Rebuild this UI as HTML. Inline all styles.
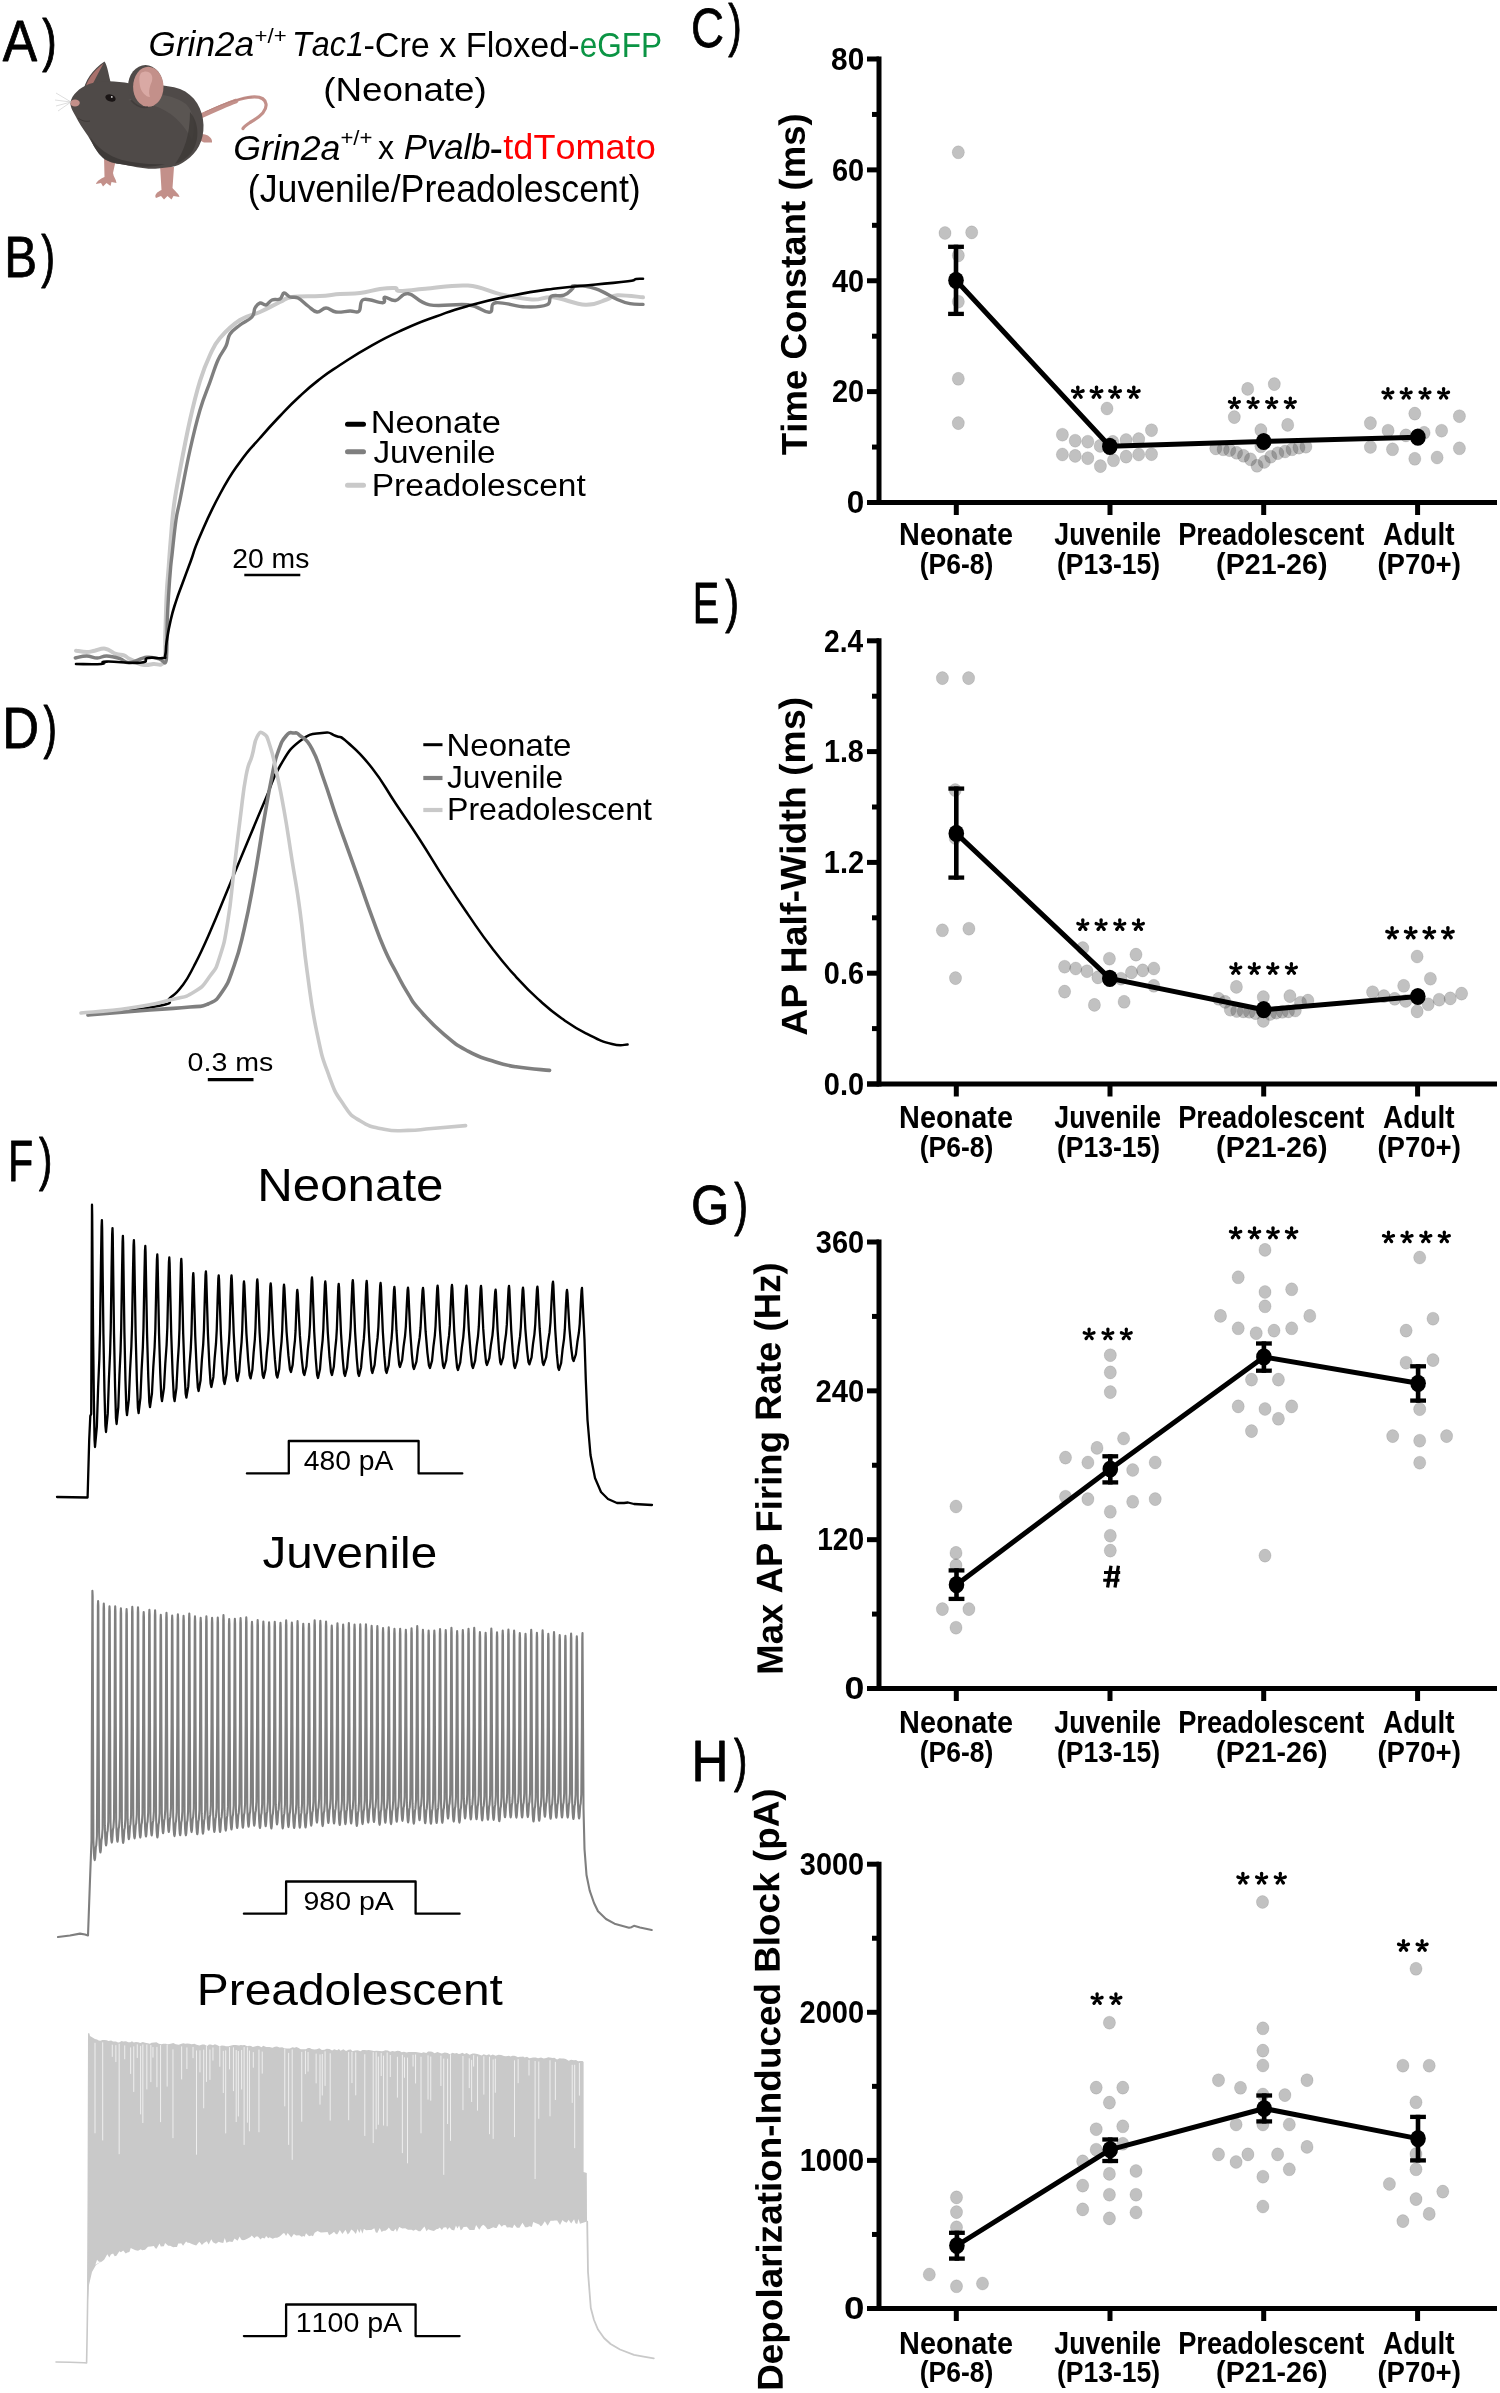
<!DOCTYPE html><html><head><meta charset="utf-8"><style>html,body{margin:0;padding:0;background:#fff;}svg{display:block;will-change:transform;}</style></head><body><svg xmlns="http://www.w3.org/2000/svg" width="1500" height="2393" viewBox="0 0 1500 2393">
<style>text{font-family:"Liberation Sans",sans-serif;font-kerning:none;} .d{fill:rgba(66,66,66,0.33);stroke:rgba(0,0,0,0.09);stroke-width:1}</style>
<rect width="1500" height="2393" fill="#fff"/>
<g>
<path d="M199,116 C214,109 232,100 248,97.5 C258,96 265,98 266,104 C267,111 258,118 250,122.5 C247,124.5 244,126.5 243,128.5" fill="none" stroke="#c3908a" stroke-width="3.2" stroke-linecap="round"/>
<path d="M199,117 C212,111 225,105 236,101" fill="none" stroke="#c3908a" stroke-width="4.6" stroke-linecap="round"/>
<path d="M205,112 C220,105 238,98 252,97" fill="none" stroke="#a8716c" stroke-width="0.8" opacity="0.5"/>
<path d="M197,133 L205,134.5 C209,135.5 212.5,138.5 212,142.5 L204,142.5 C201,141.5 198.5,139 197.5,137 Z" fill="#c3908a"/>
<path d="M83,94 C84,81 93,69 104.5,61.5 C107.5,66 108.5,74 111,84 Z" fill="#4f4a48"/>
<path d="M84.5,92 C86,81 94,70 103.5,63.5 C99,72 93.5,82 89.5,91 Z" fill="#a8716c"/>
<path d="M104,156 L104.5,177 C100,179 96.5,181.5 96,184 L101,183 L103,186.5 L106.5,183 L110.5,186 L111.5,182 L116.5,183 C116,179 113.5,177 113,173 L116.5,157 Z" fill="#c3908a"/>
<path d="M160,165 L161.5,190 C157,192 154,195 156,198 L161,196 L164,199.5 L167.5,196 L171.5,199.5 L173.5,196 L179.5,197 C178.5,193 174.5,191 172.5,188 L174,167 Z" fill="#c3908a"/>
<path d="M70.5,102 C72,95 79,88 89,84 C101,80 116,80.5 130,83.5 C145,84.5 165,84 180,89 C195,95 203,109 203.5,125 C204,141 197,153 186,160.5 C181,164 176,166.5 171,167 L158,168.5 C146,170 133,166 123,164.5 C114,163.5 108,162 103,158 C97,152 92,143 88,136 C83,129 78.5,122 75.5,116 C72,110 70,106 70.5,102 Z" fill="#4f4a48"/>
<path d="M128,100 C145,92 170,92 186,104 C194,112 196,126 192,140 C186,128 176,115 160,108 C148,103 137,102 128,100 Z" fill="#5c5755" opacity="0.8"/>
<path d="M190,112 C199,122 200,140 192,152 C187,158 181,162 175,164 C184,152 190,135 190,112 Z" fill="#3c3836" opacity="0.8"/>
<path d="M90,137 C98,148 108,156 122,160 C135,163 150,165 165,164 C152,168 136,167 123,164.5 C112,163 104,160 99,154 C95,149 92,143 90,137 Z" fill="#3c3836" opacity="0.9"/>
<path d="M78,118 C82,121 86,122 90,121" fill="none" stroke="#3c3836" stroke-width="0.9"/>
<ellipse cx="145.5" cy="86.5" rx="17.5" ry="21.5" fill="#4f4a48"/>
<ellipse cx="148.3" cy="86.8" rx="15.2" ry="20" fill="#c3908a"/>
<path d="M141,73 C147,69 154,73 152,81 C150,86 148,91 150,97 C146,97 141,92 140,86 C139,80 139,76 141,73 Z" fill="#dcaca6" opacity="0.9"/>
<path d="M131,100 C136,106 142,108.5 148,107" fill="none" stroke="#3c3836" stroke-width="1.6" opacity="0.7"/>
<ellipse cx="110.5" cy="98" rx="5.3" ry="3.5" fill="#1a1515" transform="rotate(18 110.5 98)"/>
<circle cx="111.8" cy="96.9" r="0.9" fill="#ddd"/>
<ellipse cx="75" cy="103" rx="4.8" ry="3.4" fill="#c3908a"/>
<line x1="71" y1="102" x2="56" y2="93" stroke="#bdbdbd" stroke-width="0.5"/>
<line x1="71" y1="102" x2="55" y2="100" stroke="#bdbdbd" stroke-width="0.5"/>
<line x1="71" y1="102" x2="56" y2="106" stroke="#bdbdbd" stroke-width="0.5"/>
<line x1="71" y1="102" x2="58" y2="111" stroke="#bdbdbd" stroke-width="0.5"/>
</g>
<text x="148.57" y="56.4" style="font-size:34.8px;font-style:italic;" fill="#000" textLength="105.54" lengthAdjust="spacingAndGlyphs">Grin2a</text>
<text x="254.62" y="43.1" style="font-size:20.29px;" fill="#000" textLength="32.08" lengthAdjust="spacingAndGlyphs">+/+</text>
<text x="292.1" y="56.4" style="font-size:35.32px;font-style:italic;" fill="#000" textLength="71.83" lengthAdjust="spacingAndGlyphs">Tac1</text>
<text x="363.48" y="56.7" style="font-size:34.52px;" fill="#000" textLength="216.23" lengthAdjust="spacingAndGlyphs">-Cre x Floxed-</text>
<text x="579.66" y="56.7" style="font-size:34.52px;" fill="#0b9444" textLength="82.4" lengthAdjust="spacingAndGlyphs">eGFP</text>
<text x="323.22" y="101.23" style="font-size:34.13px;" fill="#000" textLength="163.56" lengthAdjust="spacingAndGlyphs">(Neonate)</text>
<text x="233.24" y="159.5" style="font-size:35.09px;font-style:italic;" fill="#000" textLength="107.18" lengthAdjust="spacingAndGlyphs">Grin2a</text>
<text x="340.42" y="144.81" style="font-size:19.88px;" fill="#000" textLength="32.08" lengthAdjust="spacingAndGlyphs">+/+</text>
<text x="377.94" y="159.3" style="font-size:33.88px;" fill="#000" textLength="16.11" lengthAdjust="spacingAndGlyphs">x</text>
<text x="403.83" y="159.2" style="font-size:35.32px;font-style:italic;" fill="#000" textLength="86.73" lengthAdjust="spacingAndGlyphs">Pvalb</text>
<text x="489.5" y="162.65" style="font-size:44.8px;" fill="#000" textLength="13.5" lengthAdjust="spacingAndGlyphs">-</text>
<text x="503.35" y="159.2" style="font-size:35.32px;" fill="#ff0000" textLength="152.36" lengthAdjust="spacingAndGlyphs">tdTomato</text>
<text x="247.79" y="202" style="font-size:38.64px;" fill="#000" textLength="392.93" lengthAdjust="spacingAndGlyphs">(Juvenile/Preadolescent)</text>
<text x="2.8" y="61.1" style="font-size:57.7px;stroke:#000;stroke-width:0.8px;stroke-linejoin:round;" fill="#000" textLength="34.4" lengthAdjust="spacingAndGlyphs">A</text>
<text x="42.25" y="60.06" style="font-size:58.18px;stroke:#000;stroke-width:1px;stroke-linejoin:round;" fill="#000" textLength="14.44" lengthAdjust="spacingAndGlyphs">)</text>
<text x="4.36" y="276.6" style="font-size:56.98px;stroke:#000;stroke-width:0.8px;stroke-linejoin:round;" fill="#000" textLength="32.83" lengthAdjust="spacingAndGlyphs">B</text>
<text x="41.26" y="275.56" style="font-size:58.18px;stroke:#000;stroke-width:1px;stroke-linejoin:round;" fill="#000" textLength="13.82" lengthAdjust="spacingAndGlyphs">)</text>
<text x="2.22" y="748.3" style="font-size:56.98px;stroke:#000;stroke-width:0.8px;stroke-linejoin:round;" fill="#000" textLength="36.82" lengthAdjust="spacingAndGlyphs">D</text>
<text x="43.56" y="746.94" style="font-size:57.75px;stroke:#000;stroke-width:1px;stroke-linejoin:round;" fill="#000" textLength="13.44" lengthAdjust="spacingAndGlyphs">)</text>
<text x="8.01" y="1180.6" style="font-size:56.98px;stroke:#000;stroke-width:0.8px;stroke-linejoin:round;" fill="#000" textLength="25.24" lengthAdjust="spacingAndGlyphs">F</text>
<text x="38.97" y="1179.32" style="font-size:57.85px;stroke:#000;stroke-width:1px;stroke-linejoin:round;" fill="#000" textLength="13.31" lengthAdjust="spacingAndGlyphs">)</text>
<text x="691.08" y="46.6" style="font-size:56.14px;stroke:#000;stroke-width:0.8px;stroke-linejoin:round;" fill="#000" textLength="32.96" lengthAdjust="spacingAndGlyphs">C</text>
<text x="728.26" y="45.32" style="font-size:57.85px;stroke:#000;stroke-width:1px;stroke-linejoin:round;" fill="#000" textLength="13.44" lengthAdjust="spacingAndGlyphs">)</text>
<text x="692.85" y="622.6" style="font-size:56.98px;stroke:#000;stroke-width:0.8px;stroke-linejoin:round;" fill="#000" textLength="26.46" lengthAdjust="spacingAndGlyphs">E</text>
<text x="725.26" y="621.32" style="font-size:57.85px;stroke:#000;stroke-width:1px;stroke-linejoin:round;" fill="#000" textLength="13.82" lengthAdjust="spacingAndGlyphs">)</text>
<text x="690.92" y="1223.6" style="font-size:56.14px;stroke:#000;stroke-width:0.8px;stroke-linejoin:round;" fill="#000" textLength="38.37" lengthAdjust="spacingAndGlyphs">G</text>
<text x="734.26" y="1223.56" style="font-size:58.18px;stroke:#000;stroke-width:1px;stroke-linejoin:round;" fill="#000" textLength="13.82" lengthAdjust="spacingAndGlyphs">)</text>
<text x="691.5" y="1781.3" style="font-size:57.56px;stroke:#000;stroke-width:0.8px;stroke-linejoin:round;" fill="#000" textLength="36.98" lengthAdjust="spacingAndGlyphs">H</text>
<text x="733.97" y="1779.86" style="font-size:58.18px;stroke:#000;stroke-width:1px;stroke-linejoin:round;" fill="#000" textLength="13.31" lengthAdjust="spacingAndGlyphs">)</text>
<path d="M76,650.7 C78.14,650.96 82.96,652 86.7,652 C90.44,652 90.98,651.36 94.7,650.7 C98.42,650.04 101.04,648.04 105.3,648.7 C109.56,649.36 112.26,652.68 116,654 C119.74,655.32 121.34,654.36 124,655.3 C126.66,656.24 125.56,656.82 129.3,658.7 C133.04,660.58 137.9,663.64 142.7,664.7 C147.5,665.76 149.04,664.68 153.3,664 C157.56,663.32 161.6,667.44 164,661.3 C166.4,655.16 164.76,646.9 165.3,633.3 C165.84,619.7 166.02,606.62 166.7,593.3 C167.38,579.98 167.9,577.36 168.7,566.7 C169.5,556.04 169.64,552.34 170.7,540 C171.76,527.66 172.14,519 174,505 C175.86,491 176.8,487 180,470 C183.2,453 186,437.8 190,420 C194,402.2 196,394 200,381 C204,368 206,363.6 210,355 C214,346.4 214,345 220,338 C226,331 232,325.2 240,320 C248,314.8 252,315.6 260,312 C268,308.4 273.6,305 280,302 C286.4,299 284,298.2 292,297 C300,295.8 310.4,296.6 320,296 C329.6,295.4 332,294.6 340,294 C348,293.4 352,294 360,293 C368,292 373,290 380,289 C387,288 391,287.6 395,288 C399,288.4 393.94,290.84 400,291 C406.06,291.16 411.7,289.88 425.3,288.8 C438.9,287.72 453.06,284.54 468,285.6 C482.94,286.66 487.2,291.32 500,294.1 C512.8,296.88 521.34,298.86 532,299.5 C542.66,300.14 542.64,296.24 553.3,297.3 C563.96,298.36 574.62,304.36 585.3,304.8 C595.98,305.24 600.3,301.42 606.7,299.5 C613.1,297.58 610.04,295.64 617.3,295.2 C624.56,294.76 637.86,296.88 643,297.3" fill="none" stroke="#c9c9c9" stroke-width="4" stroke-linejoin="round" stroke-linecap="round" />
<path d="M75.3,658 C77.58,657.6 82.3,656 86.7,656 C91.1,656 93.3,658 97.3,658 C101.3,658 102.16,655.86 106.7,656 C111.24,656.14 115.48,657.36 120,658.7 C124.52,660.04 123.96,662.98 129.3,662.7 C134.64,662.42 140.56,657.98 146.7,657.3 C152.84,656.62 156.28,658.22 160,659.3 C163.72,660.38 163.96,663.9 165.3,662.7 C166.64,661.5 166.3,661.84 166.7,653.3 C167.1,644.76 166.9,632 167.3,620 C167.7,608 168.02,603.96 168.7,593.3 C169.38,582.64 170.04,574.36 170.7,566.7 C171.36,559.04 170.94,564.34 172,555 C173.06,545.66 174.4,531 176,520 C177.6,509 177.2,514 180,500 C182.8,486 186,468 190,450 C194,432 196,423.6 200,410 C204,396.4 206.4,392 210,382 C213.6,372 214.8,367.2 218,360 C221.2,352.8 223.6,351.2 226,346 C228.4,340.8 227.2,338.2 230,334 C232.8,329.8 235.6,328.4 240,325 C244.4,321.6 249,320.4 252,317 C255,313.6 253.4,310.8 255,308 C256.6,305.2 257.8,303.6 260,303 C262.2,302.4 263.6,305.6 266,305 C268.4,304.4 269.2,301.2 272,300 C274.8,298.8 277.6,300.4 280,299 C282.4,297.6 282,293.4 284,293 C286,292.6 287.2,296 290,297 C292.8,298 294.4,296.2 298,298 C301.6,299.8 304.2,303.2 308,306 C311.8,308.8 313.4,311.6 317,312 C320.6,312.4 322.2,308 326,308 C329.8,308 331.2,311.4 336,312 C340.8,312.6 345.4,311.16 350,311 C354.6,310.84 356.3,313.5 359,311.2 C361.7,308.9 358.76,301.2 363.5,299.5 C368.24,297.8 378.44,303.14 382.7,302.7 C386.96,302.26 382.24,297.74 384.8,297.3 C387.36,296.86 390.8,301.22 395.5,300.5 C400.2,299.78 401.48,292.84 408.3,293.7 C415.12,294.56 417.66,302.58 429.6,304.8 C441.54,307.02 456.06,303.3 468,304.8 C479.94,306.3 483.76,312.72 489.3,312.3 C494.84,311.88 488.44,303.78 495.7,302.7 C502.96,301.62 515.34,306.48 525.6,306.9 C535.86,307.32 541.88,306.92 547,304.8 C552.12,302.68 547.8,298.22 551.2,296.3 C554.6,294.38 559.74,296.7 564,295.2 C568.26,293.7 570.36,290.72 572.5,288.8 C574.64,286.88 570,285.6 574.7,285.6 C579.4,285.6 587.48,286.02 596,288.8 C604.52,291.58 610.5,296.52 617.3,299.5 C624.1,302.48 624.86,302.72 630,303.7 C635.14,304.68 640.4,304.26 643,304.4" fill="none" stroke="#7f7f7f" stroke-width="3.4" stroke-linejoin="round" stroke-linecap="round" />
<path d="M76,664 C82.75,664 93.11,664.64 101.3,664 C109.49,663.36 96.38,661.95 106.7,661.6 C117.02,661.25 128.99,663.66 140,662.7 C151.01,661.74 141.95,659.25 148,658 C154.05,656.75 158.09,658.88 162.7,658 C167.31,657.12 164.23,659.15 165.3,654.7 C166.37,650.25 165.26,650.55 166.7,641.3 C168.14,632.05 168.22,630.67 170.7,620 C173.18,609.33 172.8,611.25 176,601.3 C179.2,591.35 178.78,593.37 182.7,582.7 C186.62,572.03 186.09,573.75 190.7,561.3 C195.31,548.85 192.19,553.95 200,536 C207.81,518.05 209.33,513.73 220,494 C230.67,474.27 229.33,476.93 240,462 C250.67,447.07 249.33,450.27 260,438 C270.67,425.73 269.33,427.2 280,416 C290.67,404.8 289.33,405.87 300,396 C310.67,386.13 309.33,387.27 320,379 C330.67,370.73 326.13,373.99 340,365 C353.87,356.01 354.93,354.82 372,345.3 C389.07,335.78 386.93,336.98 404,329.3 C421.07,321.62 418.93,322.74 436,316.5 C453.07,310.26 448.08,311.42 468,305.9 C487.92,300.38 487.95,300.36 510.7,295.8 C533.45,291.24 530.55,291.81 553.3,288.8 C576.05,285.79 576.08,286.5 596,284.5 C615.92,282.5 617.33,282.77 628,281.3 C638.67,279.83 632,279.67 636,279 C640,278.33 641.13,278.85 643,278.8" fill="none" stroke="#000" stroke-width="2.6" stroke-linejoin="round" stroke-linecap="round" />
<line x1="347.5" y1="424.3" x2="363.5" y2="424.3" stroke="#000" stroke-width="5" stroke-linecap="round"/>
<line x1="347.5" y1="451.7" x2="363.5" y2="451.7" stroke="#7f7f7f" stroke-width="5" stroke-linecap="round"/>
<line x1="347.5" y1="485.3" x2="363.5" y2="485.3" stroke="#c9c9c9" stroke-width="5" stroke-linecap="round"/>
<text x="370.68" y="432.9" style="font-size:30.67px;" fill="#000" textLength="130.15" lengthAdjust="spacingAndGlyphs">Neonate</text>
<text x="373.48" y="463.3" style="font-size:31.54px;" fill="#000" textLength="122.1" lengthAdjust="spacingAndGlyphs">Juvenile</text>
<text x="371.75" y="495.7" style="font-size:30.81px;" fill="#000" textLength="213.99" lengthAdjust="spacingAndGlyphs">Preadolescent</text>
<text x="232.18" y="567.6" style="font-size:27.35px;" fill="#000" textLength="77.15" lengthAdjust="spacingAndGlyphs">20 ms</text>
<line x1="244.3" y1="575" x2="300.3" y2="575" stroke="#000" stroke-width="2.4" stroke-linecap="butt"/>
<path d="M88,1015 C106.67,1012.6 136.13,1010.53 158,1006 C179.87,1001.47 163.6,1003.33 170,998 C176.4,992.67 175.6,994.53 182,986 C188.4,977.47 186.53,980.4 194,966 C201.47,951.6 200.4,953.87 210,932 C219.6,910.13 219.33,909.6 230,884 C240.67,858.4 240.4,858.93 250,836 C259.6,813.07 258,816.67 266,798 C274,779.33 270.93,781.2 280,766 C289.07,750.8 288.8,749.8 300,741 C311.2,732.2 312.4,734.33 322,733 C331.6,731.67 329.07,733.39 336,736 C342.93,738.61 338.4,734.27 348,742.8 C357.6,751.33 359.2,751.68 372,768 C384.8,784.32 383.2,784.8 396,804 C408.8,823.2 407.2,820.16 420,840 C432.8,859.84 431.2,858.56 444,878.4 C456.8,898.24 455.2,895.84 468,914.4 C480.8,932.96 479.2,931.36 492,948 C504.8,964.64 503.2,962.72 516,976.8 C528.8,990.88 527.2,989.28 540,1000.8 C552.8,1012.32 551.2,1011.04 564,1020 C576.8,1028.96 575.2,1028 588,1034.4 C600.8,1040.8 601.44,1041.31 612,1044 C622.56,1046.69 623.44,1044.37 627.6,1044.5" fill="none" stroke="#000" stroke-width="2.5" stroke-linejoin="round" stroke-linecap="round" />
<path d="M88,1015 C104.53,1013.67 122.8,1012.13 150,1010 C177.2,1007.87 174.53,1008.6 190,1007 C205.47,1005.4 199.47,1008 208,1004 C216.53,1000 215.07,1002.13 222,992 C228.93,981.87 228.13,982.53 234,966 C239.87,949.47 238.67,952.93 244,930 C249.33,907.07 248.67,909.33 254,880 C259.33,850.67 259.2,847.73 264,820 C268.8,792.27 268.27,794.13 272,776 C275.73,757.87 274.27,762.67 278,752 C281.73,741.33 281.73,741.07 286,736 C290.27,730.93 290.27,733.11 294,733 C297.73,732.89 295.2,731.39 300,735.6 C304.8,739.81 305.6,736.96 312,748.8 C318.4,760.64 317.6,762.08 324,780 C330.4,797.92 329.6,797.44 336,816 C342.4,834.56 341.6,831.68 348,849.6 C354.4,867.52 353.6,865.28 360,883.2 C366.4,901.12 365.6,899.52 372,916.8 C378.4,934.08 377.6,933.28 384,948 C390.4,962.72 389.6,959.84 396,972 C402.4,984.16 401.6,983.36 408,993.6 C414.4,1003.84 410.4,999.52 420,1010.4 C429.6,1021.28 431.2,1023.52 444,1034.4 C456.8,1045.28 455.2,1044.16 468,1051.2 C480.8,1058.24 479.2,1056.64 492,1060.8 C504.8,1064.96 500.64,1064.24 516,1066.8 C531.36,1069.36 540.64,1069.44 549.6,1070.4" fill="none" stroke="#7f7f7f" stroke-width="3.6" stroke-linejoin="round" stroke-linecap="round" />
<path d="M81,1013 C94.07,1011.67 106.27,1011.47 130,1008 C153.73,1004.53 152.93,1004.27 170,1000 C187.07,995.73 183.33,998.4 194,992 C204.67,985.6 203.07,985.6 210,976 C216.93,966.4 215.2,970.93 220,956 C224.8,941.07 224.27,942.93 228,920 C231.73,897.07 230.8,896.67 234,870 C237.2,843.33 236.8,845.07 240,820 C243.2,794.93 242.8,793.07 246,776 C249.2,758.93 249.07,766.4 252,756 C254.93,745.6 253.8,742.87 257,737 C260.2,731.13 260.53,731.6 264,734 C267.47,736.4 266.8,736.4 270,746 C273.2,755.6 272.27,752.93 276,770 C279.73,787.07 279.73,786 284,810 C288.27,834 287.73,833.07 292,860 C296.27,886.93 295.95,881.13 300,911 C304.05,940.87 302.72,939.73 307.2,972 C311.68,1004.27 311.04,1004.48 316.8,1032 C322.56,1059.52 321.76,1056 328.8,1075.2 C335.84,1094.4 334.88,1091.84 343.2,1104 C351.52,1116.16 349.12,1114.08 360,1120.8 C370.88,1127.52 371.2,1126.64 384,1129.2 C396.8,1131.76 395.2,1130.59 408,1130.4 C420.8,1130.21 416.64,1129.78 432,1128.5 C447.36,1127.22 456.64,1126.37 465.6,1125.6" fill="none" stroke="#c9c9c9" stroke-width="3.6" stroke-linejoin="round" stroke-linecap="round" />
<line x1="423.3" y1="744.7" x2="442.5" y2="744.7" stroke="#000" stroke-width="3" stroke-linecap="butt"/>
<line x1="423.3" y1="778" x2="442.5" y2="778" stroke="#7f7f7f" stroke-width="4.2" stroke-linecap="butt"/>
<line x1="423.3" y1="810" x2="442.5" y2="810" stroke="#c9c9c9" stroke-width="4.2" stroke-linecap="butt"/>
<text x="446.49" y="756.3" style="font-size:30.96px;" fill="#000" textLength="124.98" lengthAdjust="spacingAndGlyphs">Neonate</text>
<text x="447.01" y="787.5" style="font-size:31.54px;" fill="#000" textLength="116.1" lengthAdjust="spacingAndGlyphs">Juvenile</text>
<text x="447.07" y="820" style="font-size:31.54px;" fill="#000" textLength="204.86" lengthAdjust="spacingAndGlyphs">Preadolescent</text>
<text x="187.59" y="1071" style="font-size:26.64px;" fill="#000" textLength="85.65" lengthAdjust="spacingAndGlyphs">0.3 ms</text>
<line x1="207.8" y1="1079.7" x2="253.5" y2="1079.7" stroke="#000" stroke-width="3.2" stroke-linecap="butt"/>
<text x="257.26" y="1201.2" style="font-size:45.35px;" fill="#000" textLength="186.23" lengthAdjust="spacingAndGlyphs">Neonate</text>
<text x="262.56" y="1567.5" style="font-size:44.77px;" fill="#000" textLength="174.56" lengthAdjust="spacingAndGlyphs">Juvenile</text>
<text x="196.77" y="2005.4" style="font-size:44.33px;" fill="#000" textLength="306.08" lengthAdjust="spacingAndGlyphs">Preadolescent</text>
<polyline points="246.9,1473.4 288.8,1473.4 288.8,1441 418.6,1441 418.6,1473.4 462.3,1473.4" fill="none" stroke="#000" stroke-width="2.3" stroke-linejoin="round" stroke-linecap="round" stroke-linejoin="miter" stroke-linecap="butt"/>
<text x="303.75" y="1469.9" style="font-size:26.74px;" fill="#000" textLength="89.6" lengthAdjust="spacingAndGlyphs">480 pA</text>
<polyline points="243.9,1913.7 286.1,1913.7 286.1,1881.5 415.6,1881.5 415.6,1913.7 459.6,1913.7" fill="none" stroke="#000" stroke-width="2.3" stroke-linejoin="round" stroke-linecap="round" stroke-linejoin="miter" stroke-linecap="butt"/>
<text x="303.46" y="1909.6" style="font-size:25.92px;" fill="#000" textLength="90.29" lengthAdjust="spacingAndGlyphs">980 pA</text>
<polyline points="243.9,2336.1 286.1,2336.1 286.1,2304.5 415.6,2304.5 415.6,2336.1 459.6,2336.1" fill="none" stroke="#000" stroke-width="2.3" stroke-linejoin="round" stroke-linecap="round" stroke-linejoin="miter" stroke-linecap="butt"/>
<text x="295.72" y="2332.1" style="font-size:26.74px;" fill="#000" textLength="106.43" lengthAdjust="spacingAndGlyphs">1100 pA</text>
<polyline points="57,1497 87.6,1497.5 89.2,1440 90.3,1416 91.2,1414 92,1204.7 92.18,1214.39 92.6,1270.12 93.11,1335.54 93.89,1400.96 94.55,1439.73 95,1447 96.86,1426.58 98.11,1388.01 99.35,1358.51 100.04,1331.28 100.93,1265.48 101.56,1226.91 101.9,1220.1 102.15,1228.58 102.72,1277.31 103.42,1334.53 104.48,1391.74 105.39,1425.64 106,1432 107.75,1413.65 108.92,1378.99 110.09,1352.48 110.75,1328.01 111.59,1268.88 112.17,1234.22 112.5,1228.1 112.75,1235.94 113.32,1280.99 114.02,1333.89 115.08,1386.78 115.98,1418.12 116.6,1424 118.3,1407.07 119.44,1375.09 120.57,1350.64 121.2,1328.07 122.02,1273.52 122.59,1241.54 122.9,1235.9 123.15,1243.06 123.72,1284.26 124.42,1332.61 125.48,1380.97 126.39,1409.63 127,1415 128.86,1399.26 130.1,1369.53 131.35,1346.79 132.04,1325.8 132.93,1275.08 133.56,1245.35 133.9,1240.1 134.18,1247.02 134.84,1286.78 135.64,1333.47 136.86,1380.15 137.89,1407.81 138.6,1413 140.41,1397.97 141.62,1369.58 142.82,1347.87 143.49,1327.83 144.36,1279.4 144.97,1251.01 145.3,1246 145.58,1252.44 146.24,1289.47 147.04,1332.94 148.26,1376.41 149.3,1402.17 150,1407 151.97,1393.28 153.28,1367.35 154.6,1347.53 155.33,1329.22 156.28,1285 156.94,1259.08 157.3,1254.5 157.58,1260.36 158.24,1294.06 159.04,1333.61 160.26,1373.16 161.3,1396.61 162,1401 163.97,1388.09 165.28,1363.69 166.6,1345.04 167.33,1327.82 168.28,1286.2 168.94,1261.81 169.3,1257.5 169.62,1263.24 170.36,1296.24 171.26,1334.99 172.64,1373.74 173.81,1396.69 174.6,1401 176.41,1388.2 177.62,1364.03 178.82,1345.54 179.49,1328.48 180.36,1287.24 180.97,1263.07 181.3,1258.8 181.61,1264.35 182.32,1296.28 183.19,1333.75 184.51,1371.23 185.64,1393.44 186.4,1397.6 188.26,1386.4 189.5,1365.26 190.75,1349.08 191.44,1334.16 192.33,1298.08 192.96,1276.93 193.3,1273.2 193.62,1277.91 194.36,1305.01 195.26,1336.81 196.64,1368.62 197.81,1387.47 198.6,1391 200.57,1380.23 201.88,1359.88 203.2,1344.32 203.93,1329.95 204.88,1295.24 205.53,1274.89 205.9,1271.3 206.23,1275.93 207,1302.54 207.94,1333.78 209.37,1365.02 210.58,1383.53 211.4,1387 213.37,1376.95 214.69,1357.96 216,1343.44 216.73,1330.03 217.68,1297.64 218.33,1278.65 218.7,1275.3 219.05,1279.65 219.88,1304.65 220.88,1334 222.42,1363.35 223.72,1380.74 224.6,1384 226.46,1374.22 227.7,1355.74 228.95,1341.61 229.64,1328.56 230.53,1297.04 231.16,1278.56 231.5,1275.3 231.85,1279.53 232.68,1303.84 233.68,1332.38 235.22,1360.92 236.52,1377.83 237.4,1381 239.18,1372.05 240.37,1355.13 241.56,1342.19 242.22,1330.26 243.08,1301.4 243.67,1284.48 244,1281.5 244.4,1285.38 245.32,1307.66 246.44,1333.83 248.16,1359.99 249.61,1375.49 250.6,1378.4 252.41,1369.48 253.62,1352.63 254.82,1339.75 255.49,1327.86 256.36,1299.12 256.97,1282.27 257.3,1279.3 257.68,1283.25 258.56,1305.95 259.63,1332.6 261.27,1359.25 262.66,1375.04 263.6,1378 265.52,1369.48 266.8,1353.38 268.07,1341.07 268.78,1329.7 269.71,1302.24 270.34,1286.14 270.7,1283.3 271.1,1287.07 272.04,1308.76 273.18,1334.22 274.92,1359.68 276.39,1374.77 277.4,1377.6 279.18,1369.24 280.37,1353.45 281.56,1341.37 282.22,1330.22 283.08,1303.28 283.67,1287.49 284,1284.7 284.42,1288.19 285.4,1308.27 286.59,1331.84 288.41,1355.41 289.95,1369.38 291,1372 292.7,1364.62 293.83,1350.68 294.97,1340.02 295.6,1330.18 296.42,1306.4 296.99,1292.46 297.3,1290 297.73,1293.4 298.72,1312.95 299.93,1335.9 301.77,1358.85 303.33,1372.45 304.4,1375 306.45,1366.22 307.82,1349.65 309.19,1336.97 309.95,1325.28 310.94,1297 311.62,1280.42 312,1277.5 312.36,1281.52 313.2,1304.63 314.22,1331.77 315.78,1358.9 317.1,1374.98 318,1378 319.97,1369.32 321.29,1352.91 322.6,1340.37 323.33,1328.79 324.28,1300.8 324.94,1284.39 325.3,1281.5 325.7,1285.24 326.64,1306.74 327.78,1331.99 329.52,1357.23 331,1372.19 332,1375 333.81,1366.8 335.01,1351.31 336.22,1339.47 336.89,1328.54 337.76,1302.12 338.37,1286.63 338.7,1283.9 339.08,1287.58 339.96,1308.77 341.03,1333.63 342.67,1358.5 344.06,1373.24 345,1376 347.11,1367.37 348.51,1351.07 349.91,1338.6 350.69,1327.09 351.71,1299.28 352.41,1282.98 352.8,1280.1 353.17,1283.94 354.04,1305.99 355.09,1331.89 356.71,1357.78 358.07,1373.12 359,1376 361.08,1367.45 362.46,1351.3 363.85,1338.95 364.62,1327.55 365.62,1300 366.31,1283.85 366.7,1281 367.04,1284.68 367.84,1305.84 368.81,1330.68 370.29,1355.52 371.54,1370.24 372.4,1373 374.61,1364.9 376.09,1349.6 377.57,1337.9 378.39,1327.1 379.45,1301 380.19,1285.7 380.6,1283 380.96,1286.6 381.8,1307.3 382.82,1331.6 384.38,1355.9 385.7,1370.3 386.6,1373 388.71,1365.26 390.11,1350.64 391.51,1339.46 392.29,1329.14 393.31,1304.2 394.01,1289.58 394.4,1287 394.74,1290.2 395.52,1308.6 396.47,1330.2 397.93,1351.8 399.16,1364.6 400,1367 402.16,1359.85 403.6,1346.36 405.04,1336.03 405.84,1326.51 406.88,1303.48 407.6,1289.98 408,1287.6 408.36,1290.86 409.2,1309.58 410.22,1331.56 411.78,1353.53 413.1,1366.56 414,1369 416.43,1361.71 418.05,1347.94 419.67,1337.41 420.57,1327.69 421.74,1304.2 422.55,1290.43 423,1288 423.42,1291.2 424.4,1309.6 425.59,1331.2 427.41,1352.8 428.95,1365.6 430,1368 432.05,1360.58 433.42,1346.58 434.79,1335.86 435.55,1325.98 436.54,1302.08 437.22,1288.07 437.6,1285.6 437.98,1288.9 438.88,1307.85 439.97,1330.1 441.63,1352.34 443.04,1365.53 444,1368 446.16,1360.53 447.6,1346.42 449.04,1335.63 449.84,1325.67 450.88,1301.6 451.6,1287.49 452,1285 452.36,1288.4 453.2,1307.95 454.22,1330.9 455.78,1353.85 457.1,1367.45 458,1370 460.27,1362.4 461.78,1348.06 463.29,1337.08 464.13,1326.96 465.22,1302.48 465.98,1288.13 466.4,1285.6 466.8,1288.9 467.72,1307.85 468.84,1330.1 470.56,1352.34 472.01,1365.53 473,1368 475.16,1360.62 476.6,1346.68 478.04,1336.02 478.84,1326.18 479.88,1302.4 480.6,1288.46 481,1286 481.36,1289.16 482.2,1307.33 483.22,1328.66 484.78,1349.99 486.1,1362.63 487,1365 489.32,1358.21 490.87,1345.4 492.42,1335.59 493.28,1326.55 494.4,1304.68 495.17,1291.86 495.6,1289.6 495.92,1292.59 496.68,1309.8 497.6,1329.99 499,1350.19 500.19,1362.16 501,1364.4 503.16,1357.34 504.6,1344.02 506.04,1333.82 506.84,1324.42 507.88,1301.68 508.6,1288.35 509,1286 509.36,1289.28 510.2,1308.14 511.22,1330.28 512.78,1352.42 514.1,1365.54 515,1368 517.16,1360.76 518.6,1347.1 520.04,1336.64 520.84,1327 521.88,1303.68 522.6,1290.01 523,1287.6 523.38,1290.67 524.28,1308.34 525.37,1329.07 527.03,1349.81 528.44,1362.1 529.4,1364.4 531.56,1357.4 533,1344.17 534.44,1334.06 535.24,1324.72 536.28,1302.16 537,1288.93 537.4,1286.6 537.77,1289.74 538.64,1307.77 539.69,1328.94 541.31,1350.1 542.67,1362.65 543.6,1365 546.14,1357.49 547.83,1343.32 549.52,1332.47 550.46,1322.47 551.68,1298.28 552.53,1284.1 553,1281.6 553.36,1285.14 554.2,1305.47 555.22,1329.34 556.78,1353.2 558.1,1367.35 559,1370 561.16,1362.8 562.6,1349.2 564.04,1338.8 564.84,1329.2 565.88,1306 566.6,1292.4 567,1290 567.4,1292.84 568.32,1309.17 569.44,1328.34 571.16,1347.51 572.61,1358.87 573.6,1361 575.87,1354.43 577.38,1342.02 578.89,1332.53 579.73,1323.77 580.82,1302.6 581.58,1290.19 582,1288 584.5,1340 585.8,1380 587.5,1420 590.5,1455 595,1478 601,1492 608,1499 617,1503 624,1503 628,1502.5 634,1504 652,1505" fill="none" stroke="#000" stroke-width="2.3" stroke-linejoin="round" stroke-linecap="round" />
<polyline points="58,1937 70,1935.5 80,1933.6 85,1934.5 88,1935.5 90,1880 91.5,1840 92.4,1590.73 92.65,1595.73 93,1725.42 93.4,1840.11 93.9,1853.11 94.35,1858.61 94.7,1860.11 95.1,1858.11 95.5,1852.11 95.85,1847.11 96.3,1845.11 96.9,1836.11 97.5,1730.59 97.88,1606.07 98.1,1601.07 98.35,1606.07 98.7,1726.76 99.1,1832.45 99.6,1845.45 100.05,1850.95 100.4,1852.45 100.8,1850.45 101.2,1844.45 101.55,1839.45 102,1837.45 102.6,1828.45 103.2,1728 103.58,1608.55 103.8,1603.55 104.05,1608.55 104.4,1724.47 104.8,1825.4 105.3,1838.4 105.75,1843.9 106.1,1845.4 106.5,1843.4 106.9,1837.4 107.25,1832.4 107.7,1830.4 108.3,1821.4 108.9,1725.81 109.28,1611.22 109.5,1606.22 109.75,1611.22 110.1,1724.4 110.5,1822.58 111,1835.58 111.45,1841.08 111.8,1842.58 112.2,1840.58 112.6,1834.58 112.95,1829.58 113.4,1827.58 114,1818.58 114.6,1724.48 114.98,1611.37 115.2,1606.37 115.45,1611.37 115.8,1724.07 116.2,1821.76 116.7,1834.76 117.15,1840.26 117.5,1841.76 117.9,1839.76 118.3,1833.76 118.65,1828.76 119.1,1826.76 119.7,1817.76 120.29,1724.98 120.67,1613.19 120.89,1608.19 121.14,1613.19 121.49,1725.54 121.89,1822.89 122.39,1835.89 122.84,1841.39 123.19,1842.89 123.59,1840.89 123.99,1834.89 124.34,1829.89 124.79,1827.89 125.39,1818.89 125.99,1725.92 126.37,1613.95 126.59,1608.95 126.84,1613.95 127.19,1724.05 127.59,1819.14 128.09,1832.14 128.54,1837.64 128.89,1839.14 129.29,1837.14 129.69,1831.14 130.04,1826.14 130.49,1824.14 131.09,1815.14 131.69,1722.97 132.07,1611.8 132.29,1606.8 132.54,1611.8 132.89,1722.59 133.29,1818.37 133.79,1831.37 134.24,1836.87 134.59,1838.37 134.99,1836.37 135.39,1830.37 135.74,1825.37 136.19,1823.37 136.79,1814.37 137.39,1722.78 137.77,1612.19 137.99,1607.19 138.24,1612.19 138.59,1722.39 138.99,1817.59 139.49,1830.59 139.94,1836.09 140.29,1837.59 140.69,1835.59 141.09,1829.59 141.44,1824.59 141.89,1822.59 142.49,1813.59 143.09,1724.78 143.47,1616.97 143.69,1611.97 143.94,1616.97 144.29,1724.21 144.69,1816.46 145.19,1829.46 145.64,1834.96 145.99,1836.46 146.39,1834.46 146.79,1828.46 147.14,1823.46 147.59,1821.46 148.19,1812.46 148.79,1723.09 149.17,1614.73 149.39,1609.73 149.64,1614.73 149.99,1722.58 150.39,1815.43 150.89,1828.43 151.34,1833.93 151.69,1835.43 152.09,1833.43 152.49,1827.43 152.84,1822.43 153.29,1820.43 153.89,1811.43 154.49,1722.87 154.87,1615.31 155.09,1610.31 155.34,1615.31 155.69,1723.9 156.09,1817.49 156.59,1830.49 157.04,1835.99 157.39,1837.49 157.79,1835.49 158.19,1829.49 158.54,1824.49 158.99,1822.49 159.59,1813.49 160.19,1726.16 160.57,1619.83 160.79,1614.83 161.04,1619.83 161.39,1724 161.79,1813.17 162.29,1826.17 162.74,1831.67 163.09,1833.17 163.49,1831.17 163.89,1825.17 164.24,1820.17 164.69,1818.17 165.29,1809.17 165.88,1723.04 166.26,1617.91 166.48,1612.91 166.73,1617.91 167.08,1722.41 167.48,1811.92 167.98,1824.92 168.43,1830.42 168.78,1831.92 169.18,1829.92 169.58,1823.92 169.93,1818.92 170.38,1816.92 170.98,1807.92 171.58,1723.69 171.96,1620.46 172.18,1615.46 172.43,1620.46 172.78,1725.78 173.18,1816.11 173.68,1829.11 174.13,1834.61 174.48,1836.11 174.88,1834.11 175.28,1828.11 175.63,1823.11 176.08,1821.11 176.68,1812.11 177.28,1725.24 177.66,1619.37 177.88,1614.37 178.13,1619.37 178.48,1724.83 178.88,1815.3 179.38,1828.3 179.83,1833.8 180.18,1835.3 180.58,1833.3 180.98,1827.3 181.33,1822.3 181.78,1820.3 182.38,1811.3 182.98,1725.54 183.36,1620.77 183.58,1615.77 183.83,1620.77 184.18,1725.56 184.58,1815.34 185.08,1828.34 185.53,1833.84 185.88,1835.34 186.28,1833.34 186.68,1827.34 187.03,1822.34 187.48,1820.34 188.08,1811.34 188.68,1724.48 189.06,1618.62 189.28,1613.62 189.53,1618.62 189.88,1722.85 190.28,1812.08 190.78,1825.08 191.23,1830.58 191.58,1832.08 191.98,1830.08 192.38,1824.08 192.73,1819.08 193.18,1817.08 193.78,1808.08 194.38,1724.2 194.76,1621.32 194.98,1616.32 195.23,1621.32 195.58,1725.25 195.98,1814.18 196.48,1827.18 196.93,1832.68 197.28,1834.18 197.68,1832.18 198.08,1826.18 198.43,1821.18 198.88,1819.18 199.48,1810.18 200.08,1725.98 200.46,1622.77 200.68,1617.77 200.93,1622.77 201.28,1725.71 201.68,1813.64 202.18,1826.64 202.63,1832.14 202.98,1833.64 203.38,1831.64 203.78,1825.64 204.13,1820.64 204.58,1818.64 205.18,1809.64 205.78,1724.99 206.16,1621.33 206.38,1616.33 206.63,1621.33 206.98,1723.01 207.38,1809.69 207.88,1822.69 208.33,1828.19 208.68,1829.69 209.08,1827.69 209.48,1821.69 209.83,1816.69 210.28,1814.69 210.88,1805.69 211.48,1723.7 211.86,1622.71 212.08,1617.71 212.33,1622.71 212.68,1724.8 213.08,1811.89 213.58,1824.89 214.03,1830.39 214.38,1831.89 214.78,1829.89 215.18,1823.89 215.53,1818.89 215.98,1816.89 216.58,1807.89 217.17,1724.77 217.55,1622.65 217.77,1617.65 218.02,1622.65 218.37,1724.78 218.77,1811.92 219.27,1824.92 219.72,1830.42 220.07,1831.92 220.47,1829.92 220.87,1823.92 221.22,1818.92 221.67,1816.92 222.27,1807.92 222.87,1723.45 223.25,1619.98 223.47,1614.98 223.72,1619.98 224.07,1722.8 224.47,1810.63 224.97,1823.63 225.42,1829.13 225.77,1830.63 226.17,1828.63 226.57,1822.63 226.92,1817.63 227.37,1815.63 227.97,1806.63 228.57,1724.85 228.95,1624.06 229.17,1619.06 229.42,1624.06 229.77,1724.27 230.17,1809.49 230.67,1822.49 231.12,1827.99 231.47,1829.49 231.87,1827.49 232.27,1821.49 232.62,1816.49 233.07,1814.49 233.67,1805.49 234.27,1724.16 234.65,1623.83 234.87,1618.83 235.12,1623.83 235.47,1723.38 235.87,1807.92 236.37,1820.92 236.82,1826.42 237.17,1827.92 237.57,1825.92 237.97,1819.92 238.32,1814.92 238.77,1812.92 239.37,1803.92 239.97,1722.96 240.35,1623 240.57,1618 240.82,1623 241.17,1722.88 241.57,1807.76 242.07,1820.76 242.52,1826.26 242.87,1827.76 243.27,1825.76 243.67,1819.76 244.02,1814.76 244.47,1812.76 245.07,1803.76 245.67,1722.51 246.05,1622.26 246.27,1617.26 246.52,1622.26 246.87,1722.01 247.27,1806.77 247.77,1819.77 248.22,1825.27 248.57,1826.77 248.97,1824.77 249.37,1818.77 249.72,1813.77 250.17,1811.77 250.77,1802.77 251.37,1724.32 251.75,1626.88 251.97,1621.88 252.22,1626.88 252.57,1723.76 252.97,1805.64 253.47,1818.64 253.92,1824.14 254.27,1825.64 254.67,1823.64 255.07,1817.64 255.42,1812.64 255.87,1810.64 256.47,1801.64 257.07,1722.85 257.45,1625.06 257.67,1620.06 257.92,1625.06 258.27,1724.01 258.67,1807.96 259.17,1820.96 259.62,1826.46 259.97,1827.96 260.37,1825.96 260.77,1819.96 261.12,1814.96 261.57,1812.96 262.17,1803.96 262.77,1724.69 263.15,1626.43 263.37,1621.43 263.62,1626.43 263.97,1723.8 264.37,1806.17 264.87,1819.17 265.32,1824.67 265.67,1826.17 266.07,1824.17 266.47,1818.17 266.82,1813.17 267.27,1811.17 267.87,1802.17 268.46,1724.27 268.84,1627.37 269.06,1622.37 269.31,1627.37 269.66,1725.43 270.06,1808.5 270.56,1821.5 271.01,1827 271.36,1828.5 271.76,1826.5 272.16,1820.5 272.51,1815.5 272.96,1813.5 273.56,1804.5 274.16,1725.09 274.54,1626.69 274.76,1621.69 275.01,1626.69 275.36,1723.04 275.76,1804.39 276.26,1817.39 276.71,1822.89 277.06,1824.39 277.46,1822.39 277.86,1816.39 278.21,1811.39 278.66,1809.39 279.26,1800.39 279.86,1723.63 280.24,1627.87 280.46,1622.87 280.71,1627.87 281.06,1725.63 281.46,1808.39 281.96,1821.39 282.41,1826.89 282.76,1828.39 283.16,1826.39 283.56,1820.39 283.91,1815.39 284.36,1813.39 284.96,1804.39 285.56,1724.39 285.94,1625.38 286.16,1620.38 286.41,1625.38 286.76,1723.72 287.16,1807.06 287.66,1820.06 288.11,1825.56 288.46,1827.06 288.86,1825.06 289.26,1819.06 289.61,1814.06 290.06,1812.06 290.66,1803.06 291.26,1724.83 291.64,1627.6 291.86,1622.6 292.11,1627.6 292.46,1725.29 292.86,1807.98 293.36,1820.98 293.81,1826.48 294.16,1827.98 294.56,1825.98 294.96,1819.98 295.31,1814.98 295.76,1812.98 296.36,1803.98 296.96,1724.55 297.34,1626.13 297.56,1621.13 297.81,1626.13 298.16,1724.38 298.56,1807.64 299.06,1820.64 299.51,1826.14 299.86,1827.64 300.26,1825.64 300.66,1819.64 301.01,1814.64 301.46,1812.64 302.06,1803.64 302.66,1725.76 303.04,1628.89 303.26,1623.89 303.51,1628.89 303.86,1725.67 304.26,1807.45 304.76,1820.45 305.21,1825.95 305.56,1827.45 305.96,1825.45 306.36,1819.45 306.71,1814.45 307.16,1812.45 307.76,1803.45 308.36,1725.68 308.74,1628.91 308.96,1623.91 309.21,1628.91 309.56,1724.77 309.96,1805.64 310.46,1818.64 310.91,1824.14 311.26,1825.64 311.66,1823.64 312.06,1817.64 312.41,1812.64 312.86,1810.64 313.46,1801.64 314.05,1722.97 314.43,1625.31 314.65,1620.31 314.9,1625.31 315.25,1721.46 315.65,1802.61 316.15,1815.61 316.6,1821.11 316.95,1822.61 317.35,1820.61 317.75,1814.61 318.1,1809.61 318.55,1807.61 319.15,1798.61 319.75,1721.71 320.13,1625.81 320.35,1620.81 320.6,1625.81 320.95,1723.44 321.35,1806.07 321.85,1819.07 322.3,1824.57 322.65,1826.07 323.05,1824.07 323.45,1818.07 323.8,1813.07 324.25,1811.07 324.85,1802.07 325.45,1723.79 325.83,1626.52 326.05,1621.52 326.3,1626.52 326.65,1722.26 327.05,1803 327.55,1816 328,1821.5 328.35,1823 328.75,1821 329.15,1815 329.5,1810 329.95,1808 330.55,1799 331.15,1724.28 331.53,1630.56 331.75,1625.56 332,1630.56 332.35,1724.5 332.75,1803.44 333.25,1816.44 333.7,1821.94 334.05,1823.44 334.45,1821.44 334.85,1815.44 335.2,1810.44 335.65,1808.44 336.25,1799.44 336.85,1723.33 337.23,1628.22 337.45,1623.22 337.7,1628.22 338.05,1724.14 338.45,1805.05 338.95,1818.05 339.4,1823.55 339.75,1825.05 340.15,1823.05 340.55,1817.05 340.9,1812.05 341.35,1810.05 341.95,1801.05 342.55,1724.76 342.93,1629.48 343.15,1624.48 343.4,1629.48 343.75,1724.32 344.15,1804.16 344.65,1817.16 345.1,1822.66 345.45,1824.16 345.85,1822.16 346.25,1816.16 346.6,1811.16 347.05,1809.16 347.65,1800.16 348.25,1723.66 348.63,1628.16 348.85,1623.16 349.1,1628.16 349.45,1723.29 349.85,1803.43 350.35,1816.43 350.8,1821.93 351.15,1823.43 351.55,1821.43 351.95,1815.43 352.3,1810.43 352.75,1808.43 353.35,1799.43 353.95,1723.96 354.33,1629.5 354.55,1624.5 354.8,1629.5 355.15,1725.19 355.55,1805.89 356.05,1818.89 356.5,1824.39 356.85,1825.89 357.25,1823.89 357.65,1817.89 358,1812.89 358.45,1810.89 359.05,1801.89 359.65,1725.05 360.03,1629.2 360.25,1624.2 360.5,1629.2 360.85,1724.15 361.25,1804.09 361.75,1817.09 362.2,1822.59 362.55,1824.09 362.95,1822.09 363.35,1816.09 363.7,1811.09 364.15,1809.09 364.75,1800.09 365.34,1724.21 365.72,1629.33 365.94,1624.33 366.19,1629.33 366.54,1723.45 366.94,1802.57 367.44,1815.57 367.89,1821.07 368.24,1822.57 368.64,1820.57 369.04,1814.57 369.39,1809.57 369.84,1807.57 370.44,1798.57 371.04,1724.19 371.42,1630.81 371.64,1625.81 371.89,1630.81 372.24,1723.89 372.64,1801.96 373.14,1814.96 373.59,1820.46 373.94,1821.96 374.34,1819.96 374.74,1813.96 375.09,1808.96 375.54,1806.96 376.14,1797.96 376.74,1724.04 377.12,1631.12 377.34,1626.12 377.59,1631.12 377.94,1725.48 378.34,1804.85 378.84,1817.85 379.29,1823.35 379.64,1824.85 380.04,1822.85 380.44,1816.85 380.79,1811.85 381.24,1809.85 381.84,1800.85 382.44,1726.43 382.82,1633.02 383.04,1628.02 383.29,1633.02 383.64,1725.39 384.04,1802.76 384.54,1815.76 384.99,1821.26 385.34,1822.76 385.74,1820.76 386.14,1814.76 386.49,1809.76 386.94,1807.76 387.54,1798.76 388.14,1724.99 388.52,1632.22 388.74,1627.22 388.99,1632.22 389.34,1725.67 389.74,1804.12 390.24,1817.12 390.69,1822.62 391.04,1824.12 391.44,1822.12 391.84,1816.12 392.19,1811.12 392.64,1809.12 393.24,1800.12 393.84,1726.44 394.22,1633.76 394.44,1628.76 394.69,1633.76 395.04,1725.28 395.44,1801.8 395.94,1814.8 396.39,1820.3 396.74,1821.8 397.14,1819.8 397.54,1813.8 397.89,1808.8 398.34,1806.8 398.94,1797.8 399.54,1725.26 399.92,1633.71 400.14,1628.71 400.39,1633.71 400.74,1724.79 401.14,1800.87 401.64,1813.87 402.09,1819.37 402.44,1820.87 402.84,1818.87 403.24,1812.87 403.59,1807.87 404.04,1805.87 404.64,1796.87 405.24,1725.28 405.62,1634.69 405.84,1629.69 406.09,1634.69 406.44,1726.04 406.84,1802.39 407.34,1815.39 407.79,1820.89 408.14,1822.39 408.54,1820.39 408.94,1814.39 409.29,1809.39 409.74,1807.39 410.34,1798.39 410.93,1725.39 411.31,1633.4 411.53,1628.4 411.78,1633.4 412.13,1726.02 412.53,1803.64 413.03,1816.64 413.48,1822.14 413.83,1823.64 414.23,1821.64 414.63,1815.64 414.98,1810.64 415.43,1808.64 416.03,1799.64 416.63,1724.9 417.01,1631.17 417.23,1626.17 417.48,1631.17 417.83,1723.2 418.23,1800.24 418.73,1813.24 419.18,1818.74 419.53,1820.24 419.93,1818.24 420.33,1812.24 420.68,1807.24 421.13,1805.24 421.73,1796.24 422.33,1725.08 422.71,1634.91 422.93,1629.91 423.18,1634.91 423.53,1726.55 423.93,1803.18 424.43,1816.18 424.88,1821.68 425.23,1823.18 425.63,1821.18 426.03,1815.18 426.38,1810.18 426.83,1808.18 427.43,1799.18 428.03,1726.91 428.41,1635.65 428.63,1630.65 428.88,1635.65 429.23,1727.16 429.63,1803.67 430.13,1816.67 430.58,1822.17 430.93,1823.67 431.33,1821.67 431.73,1815.67 432.08,1810.67 432.53,1808.67 433.13,1799.67 433.73,1727.11 434.11,1635.56 434.33,1630.56 434.58,1635.56 434.93,1726.74 435.33,1802.92 435.83,1815.92 436.28,1821.42 436.63,1822.92 437.03,1820.92 437.43,1814.92 437.78,1809.92 438.23,1807.92 438.83,1798.92 439.43,1726.01 439.81,1634.1 440.03,1629.1 440.28,1634.1 440.63,1725.97 441.03,1802.85 441.53,1815.85 441.98,1821.35 442.33,1822.85 442.73,1820.85 443.13,1814.85 443.48,1809.85 443.93,1807.85 444.53,1798.85 445.13,1726.44 445.51,1635.03 445.73,1630.03 445.98,1635.03 446.33,1724.32 446.73,1798.6 447.23,1811.6 447.68,1817.1 448.03,1818.6 448.43,1816.6 448.83,1810.6 449.18,1805.6 449.63,1803.6 450.23,1794.6 450.83,1723.17 451.21,1632.73 451.43,1627.73 451.68,1632.73 452.03,1724.65 452.43,1801.57 452.93,1814.57 453.38,1820.07 453.73,1821.57 454.13,1819.57 454.53,1813.57 454.88,1808.57 455.33,1806.57 455.93,1797.57 456.53,1726.31 456.91,1636.05 457.13,1631.05 457.38,1636.05 457.73,1726.83 458.13,1802.61 458.63,1815.61 459.08,1821.11 459.43,1822.61 459.83,1820.61 460.23,1814.61 460.58,1809.61 461.03,1807.61 461.63,1798.61 462.22,1726.29 462.6,1634.97 462.82,1629.97 463.07,1634.97 463.42,1724.19 463.82,1798.41 464.32,1811.41 464.77,1816.91 465.12,1818.41 465.52,1816.41 465.92,1810.41 466.27,1805.41 466.72,1803.41 467.32,1794.41 467.92,1723.58 468.3,1633.74 468.52,1628.74 468.77,1633.74 469.12,1724.07 469.52,1799.39 470.02,1812.39 470.47,1817.89 470.82,1819.39 471.22,1817.39 471.62,1811.39 471.97,1806.39 472.42,1804.39 473.02,1795.39 473.62,1723.62 474,1632.85 474.22,1627.85 474.47,1632.85 474.82,1723.55 475.22,1799.25 475.72,1812.25 476.17,1817.75 476.52,1819.25 476.92,1817.25 477.32,1811.25 477.67,1806.25 478.12,1804.25 478.72,1795.25 479.32,1725.63 479.7,1637.02 479.92,1632.02 480.17,1637.02 480.52,1726.21 480.92,1800.41 481.42,1813.41 481.87,1818.91 482.22,1820.41 482.62,1818.41 483.02,1812.41 483.37,1807.41 483.82,1805.41 484.42,1796.41 485.02,1726.66 485.4,1637.91 485.62,1632.91 485.87,1637.91 486.22,1726.33 486.62,1799.76 487.12,1812.76 487.57,1818.26 487.92,1819.76 488.32,1817.76 488.72,1811.76 489.07,1806.76 489.52,1804.76 490.12,1795.76 490.72,1724.19 491.1,1633.62 491.32,1628.62 491.57,1633.62 491.92,1724.25 492.32,1799.88 492.82,1812.88 493.27,1818.38 493.62,1819.88 494.02,1817.88 494.42,1811.88 494.77,1806.88 495.22,1804.88 495.82,1795.88 496.42,1726.14 496.8,1637.39 497.02,1632.39 497.27,1637.39 497.62,1726.83 498.02,1801.27 498.52,1814.27 498.97,1819.77 499.32,1821.27 499.72,1819.27 500.12,1813.27 500.47,1808.27 500.92,1806.27 501.52,1797.27 502.12,1725.96 502.5,1635.65 502.72,1630.65 502.97,1635.65 503.32,1723.96 503.72,1797.27 504.22,1810.27 504.67,1815.77 505.02,1817.27 505.42,1815.27 505.82,1809.27 506.17,1804.27 506.62,1802.27 507.22,1793.27 507.82,1723.41 508.2,1634.56 508.42,1629.56 508.67,1634.56 509.02,1723.48 509.42,1797.4 509.92,1810.4 510.37,1815.9 510.72,1817.4 511.12,1815.4 511.52,1809.4 511.87,1804.4 512.32,1802.4 512.92,1793.4 513.51,1723.94 513.89,1635.49 514.11,1630.49 514.36,1635.49 514.71,1724.06 515.11,1797.63 515.61,1810.63 516.06,1816.13 516.41,1817.63 516.81,1815.63 517.21,1809.63 517.56,1804.63 518.01,1802.63 518.61,1793.63 519.21,1725.35 519.59,1638.07 519.81,1633.07 520.06,1638.07 520.41,1725.28 520.81,1797.49 521.31,1810.49 521.76,1815.99 522.11,1817.49 522.51,1815.49 522.91,1809.49 523.26,1804.49 523.71,1802.49 524.31,1793.49 524.91,1725.64 525.29,1638.8 525.51,1633.8 525.76,1638.8 526.11,1725.44 526.51,1797.08 527.01,1810.08 527.46,1815.58 527.81,1817.08 528.21,1815.08 528.61,1809.08 528.96,1804.08 529.41,1802.08 530.01,1793.08 530.61,1723.47 530.99,1634.86 531.21,1629.86 531.46,1634.86 531.81,1725.67 532.21,1801.48 532.71,1814.48 533.16,1819.98 533.51,1821.48 533.91,1819.48 534.31,1813.48 534.66,1808.48 535.11,1806.48 535.71,1797.48 536.31,1727.2 536.69,1637.92 536.91,1632.92 537.16,1637.92 537.51,1726.84 537.91,1800.75 538.41,1813.75 538.86,1819.25 539.21,1820.75 539.61,1818.75 540.01,1812.75 540.36,1807.75 540.81,1805.75 541.41,1796.75 542.01,1725.52 542.39,1635.28 542.61,1630.28 542.86,1635.28 543.21,1723.53 543.61,1796.78 544.11,1809.78 544.56,1815.28 544.91,1816.78 545.31,1814.78 545.71,1808.78 546.06,1803.78 546.51,1801.78 547.11,1792.78 547.71,1725.32 548.09,1638.86 548.31,1633.86 548.56,1638.86 548.91,1726.3 549.31,1798.73 549.81,1811.73 550.26,1817.23 550.61,1818.73 551.01,1816.73 551.41,1810.73 551.76,1805.73 552.21,1803.73 552.81,1794.73 553.41,1725.43 553.79,1637.13 554.01,1632.13 554.26,1637.13 554.61,1724.9 555.01,1797.67 555.51,1810.67 555.96,1816.17 556.31,1817.67 556.71,1815.67 557.11,1809.67 557.46,1804.67 557.91,1802.67 558.51,1793.67 559.1,1726.38 559.48,1640.09 559.7,1635.09 559.95,1640.09 560.3,1726.31 560.7,1797.53 561.2,1810.53 561.65,1816.03 562,1817.53 562.4,1815.53 562.8,1809.53 563.15,1804.53 563.6,1802.53 564.2,1793.53 564.8,1726.67 565.18,1640.8 565.4,1635.8 565.65,1640.8 566,1726.69 566.4,1797.59 566.9,1810.59 567.35,1816.09 567.7,1817.59 568.1,1815.59 568.5,1809.59 568.85,1804.59 569.3,1802.59 569.9,1793.59 570.5,1725.61 570.88,1638.63 571.1,1633.63 571.35,1638.63 571.7,1726.28 572.1,1798.94 572.6,1811.94 573.05,1817.44 573.4,1818.94 573.8,1816.94 574.2,1810.94 574.55,1805.94 575,1803.94 575.6,1794.94 576.2,1727.62 576.58,1641.3 576.8,1636.3 577.05,1641.3 577.4,1727.4 577.8,1798.51 578.3,1811.51 578.75,1817.01 579.1,1818.51 579.5,1816.51 579.9,1810.51 580.25,1805.51 580.7,1803.51 581.3,1794.51 581.9,1725.78 582.28,1638.05 582.5,1633.05 583.5,1808 584.5,1849 586.5,1875 589.7,1890.6 594,1903 598,1911.3 606,1919 614.5,1923.7 629,1927.8 631.5,1927.2 634,1925.8 640,1927.5 651.7,1930" fill="none" stroke="#7f7f7f" stroke-width="2.1" stroke-linejoin="round" stroke-linecap="round" />
<polygon points="88,2033 90,2036 95,2039 97,2039.45 98.73,2040.62 100.33,2040.79 102.38,2039.94 104.64,2040.01 106.8,2040.18 108.43,2040.97 111.17,2040.5 113.01,2041.58 115.93,2041.61 118.02,2042.5 119.59,2042.33 121.53,2040.98 123.2,2041.38 125.93,2041.24 128.3,2042.26 130.36,2042.17 131.95,2041.26 133.76,2042.58 135.9,2041.94 138.28,2042.32 140.23,2043.08 142.78,2042.09 145.14,2042.76 147.95,2043.29 149.89,2043.87 151.56,2042.82 154.2,2042.4 156.43,2042.27 158.93,2043.83 161.29,2044.15 163.27,2043.87 165.66,2043.75 167.84,2044.36 170.76,2043.75 173.25,2043.03 175.81,2044.31 178.8,2044.79 180.72,2043.99 183.23,2043.34 185.42,2043.69 187.09,2043.52 189.75,2043.74 191.62,2044.31 194.42,2043.77 196.6,2044.77 199.42,2045.39 202.22,2044.39 204.34,2044.61 207.17,2045.89 208.9,2044.38 210.74,2044.55 212.97,2045.32 214.86,2044.2 216.99,2045 219.34,2046.23 221.88,2045.43 224.3,2045.82 225.89,2046.31 228.56,2046.34 231.25,2045.45 233.35,2044.93 235.8,2044.92 237.4,2045.26 239.15,2045.57 240.73,2044.94 242.45,2045.19 244.5,2045.09 247.31,2046.35 249.03,2045.68 251.05,2045.97 252.74,2047.01 255.73,2046.36 257.95,2045.69 259.61,2046.27 261.5,2047.32 263.25,2045.78 266.17,2046.9 267.89,2047 269.43,2047.03 272.4,2047.82 274.94,2046.72 276.99,2046.61 279.65,2047.45 282.32,2047.15 284.16,2048.19 287.13,2048.39 289.84,2048.43 292.45,2047.35 294.73,2047.7 296.27,2047.11 298.19,2047.65 300.73,2049.14 302.9,2049.19 305.88,2049.35 307.93,2047.96 309.77,2047.98 311.58,2048.91 314.43,2049.46 316.65,2049.17 319.35,2048.14 321.84,2049.89 324.51,2049.68 326.73,2048.63 329.41,2049.04 332.11,2050.43 334.21,2049.37 337.13,2050.13 338.88,2049.01 340.61,2050.63 343.32,2049.23 346.06,2051 348.54,2049.84 350.87,2049.49 352.39,2051.21 354.86,2050.39 357.76,2050.28 360.57,2051.15 362.39,2050.05 364.33,2050.08 366.71,2050.18 368.83,2049.99 371.7,2050.51 373.89,2051.03 376.74,2050.79 379.62,2051.03 381.92,2051.14 383.45,2051.01 385.22,2050.19 387.92,2050.6 390.13,2051.77 392.46,2051.04 394.74,2051.56 397.42,2050.74 399.76,2051.09 401.67,2052.19 403.94,2051.83 406.58,2052.6 408.74,2052.06 411,2051.93 413.54,2051.88 415.84,2051.99 418.75,2052.52 421.56,2053.08 423.45,2052.37 426.37,2053.01 428.07,2051.62 430.24,2051.58 432.1,2051.64 434.6,2053.13 437.45,2051.97 440.02,2053.1 441.74,2053.62 444.69,2052.43 447.62,2052.91 449.85,2054.2 452.6,2052.66 454.74,2053.46 456.75,2052.91 458.73,2054.05 460.26,2053.79 462.42,2052.81 464.42,2054.11 466.69,2053.09 469.66,2054.67 472.62,2053.44 474.52,2053.42 477.19,2054.03 478.88,2054.43 481.75,2055.38 483.64,2054.15 486.52,2055.15 489.07,2054.33 490.65,2055.61 492.79,2054.5 495.7,2055.79 498.4,2054.83 501.19,2054.95 503.98,2055.88 505.99,2056.19 508.88,2055.78 510.57,2056.4 512.43,2055.67 514.17,2055.64 515.97,2056.27 517.93,2057.27 519.87,2056.86 521.63,2056.65 523.16,2056.54 524.68,2057.59 527.01,2056.63 529.22,2058.22 530.88,2058.07 533.03,2057.52 535.78,2057.45 538.04,2058.14 541.02,2057.59 543.76,2058.45 546.22,2057.96 548.24,2057.36 549.93,2057.47 552.55,2057.96 554.29,2057.7 557.05,2059.41 559.56,2058.35 561.42,2058.46 563.61,2058.46 565.78,2059 568.72,2060.87 571.04,2059.77 573.99,2060.35 576.03,2060.05 578.1,2061.31 580.35,2061.11 582.61,2061.06 583.6,2062 583.6,2172 586.8,2173 587,2221.6 580,2223.7 578.51,2219 577.23,2223.88 575.43,2223.2 574.06,2219.3 571.15,2223.49 568.64,2219.66 566.66,2222.79 564.02,2221.47 562.52,2220.07 560.03,2225.03 557.18,2220.42 554.73,2220.58 553.25,2220.68 550.54,2220.86 547.67,2225.86 544.82,2221.25 542.03,2225.43 540.66,2226.32 539.19,2224.62 536.07,2223.33 533.2,2222.02 531.9,2226.91 529.44,2226.27 527.27,2227.22 525.15,2227.34 522.46,2222.68 519.46,2227.63 516.94,2227.75 514.25,2224.59 512.55,2227.97 509.65,2227.32 506.99,2227.45 505.33,2225.03 503.15,2225.14 501.79,2226.71 499.06,2223.85 496.59,2227.97 495.24,2228.04 493.37,2227.13 490.93,2228.25 489.71,2229.11 487.54,2229.22 484.95,2226.05 483.17,2224.64 481.4,2226.23 479.27,2229.64 476.08,2225 474.48,2229.88 471.41,2230.01 469.63,2230.06 466.79,2226.83 463.6,2226.91 461.98,2229.45 460.63,2230.28 459.15,2225.52 457.42,2228.56 455.96,2225.6 454.2,2230.44 451.59,2229.71 449.4,2227.27 447.41,2229.81 446.2,2227.34 443.64,2227.41 441.84,2229.95 439.8,2227.5 437.97,2229.05 436.77,2229.08 433.89,2230.95 430.81,2230.23 428.18,2229.3 426.48,2231.14 424.49,2226.39 423.14,2227.92 420.43,2231.29 418.67,2231.33 415.8,2229.61 413.33,2230.67 411.63,2229.71 409.56,2229.76 407.98,2229.8 405.21,2228.37 402.24,2228.44 399.21,2227.04 396.91,2231.95 395.61,2228.72 393.51,2231.32 391.02,2230.45 388.85,2227.56 387.4,2229.13 385.37,2230.73 383.57,2230.82 381.56,2231.92 379.76,2228.01 377.22,2232.94 375.68,2232.22 374.33,2228.28 371.32,2229.93 369.02,2230.05 366.01,2230.2 363.95,2228.8 362.37,2233.68 360.82,2228.96 359.44,2233.03 357.5,2229.12 355.9,2234.01 353.2,2230.84 351.23,2229.44 349.61,2232.52 347.74,2234.41 345.54,2229.72 342.4,2233.88 339.83,2230.01 337.37,2234.13 335.99,2234.2 334.02,2231.8 331.95,2233.4 329.06,2235.35 327.6,2232.12 324.98,2232.25 321.85,2232.41 320.65,2232.47 317.58,2231.12 314.67,2232.77 312.98,2236.15 311.33,2235.43 309.08,2236.36 306,2233.27 304.63,2236.66 303.43,2235.94 301.76,2236.85 299.27,2235.22 296.15,2235.42 293.89,2234.07 291.29,2237.55 289.9,2235.84 287.65,2232.99 286.06,2236.1 284.42,2233.21 283.21,2233.29 281.41,2234.91 279.65,2236.52 277.16,2237.69 275.01,2237.83 272.72,2238.79 269.6,2237.19 268.29,2238.28 266.09,2235.93 264.73,2238.52 262.19,2237.69 260.54,2239.6 257.95,2236.47 256.02,2236.6 254.43,2238.2 251.75,2235.38 250.41,2236.97 247.28,2238.77 244.54,2240.05 242.88,2240.21 241.15,2239.38 239.73,2236.53 237.54,2240.75 234.55,2238.55 232.52,2242.05 229.42,2241.56 226.37,2242.66 224.75,2238.03 223.26,2242.97 220.64,2242.44 218.66,2241.63 215.99,2243.7 212.93,2242.21 211.35,2239.37 208.66,2244.41 206.83,2241.25 203.95,2242.98 201.87,2244.95 200.66,2243.25 199.3,2241.86 196.19,2245.4 193.87,2244.79 191.91,2243.95 189.06,2242.67 187.69,2242.78 186.1,2241.41 183.06,2245.66 181.21,2243.3 179.95,2243.4 178.25,2243.54 176.97,2246.94 174.84,2247.11 173.13,2247.25 170.13,2245.69 168.21,2245.84 165.09,2243.09 163.81,2246.2 160.76,2246.44 159.55,2243.57 156.52,2248.82 155.27,2248.21 153.85,2245.92 150.75,2246.39 147.97,2246.81 145.14,2249.73 142.08,2250.19 140.86,2249.37 138.02,2250.8 135.6,2250.16 132.68,2249.1 130.76,2247.89 129.4,2252.09 127.42,2252.39 125.72,2253.44 123.22,2250.52 120.92,2252.36 119.39,2251.23 116.43,2255.64 114.7,2256.29 113.08,2253.59 110.88,2254.42 109.34,2257.5 107.3,2254.26 104.32,2259.38 101.63,2261.78 98.87,2261.71 97.08,2259.83 95.34,2264.65 104,2260 96,2265 92,2272 89,2285 88,2300" fill="#c9c9c9"/>
<line x1="95" y1="2042.8" x2="95" y2="2133.27" stroke="#efefef" stroke-width="1" stroke-linecap="butt"/>
<line x1="102.7" y1="2042.34" x2="102.7" y2="2140.41" stroke="#efefef" stroke-width="1" stroke-linecap="butt"/>
<line x1="112.29" y1="2044.74" x2="112.29" y2="2056.82" stroke="#efefef" stroke-width="1" stroke-linecap="butt"/>
<line x1="115.85" y1="2045.21" x2="115.85" y2="2062.04" stroke="#efefef" stroke-width="1" stroke-linecap="butt"/>
<line x1="119.17" y1="2043.78" x2="119.17" y2="2154.2" stroke="#efefef" stroke-width="1" stroke-linecap="butt"/>
<line x1="124.71" y1="2045.45" x2="124.71" y2="2059.22" stroke="#efefef" stroke-width="1" stroke-linecap="butt"/>
<line x1="130.62" y1="2047.44" x2="130.62" y2="2073.88" stroke="#efefef" stroke-width="1" stroke-linecap="butt"/>
<line x1="133.76" y1="2046.39" x2="133.76" y2="2091.95" stroke="#efefef" stroke-width="1" stroke-linecap="butt"/>
<line x1="137.27" y1="2044.4" x2="137.27" y2="2057.94" stroke="#efefef" stroke-width="1" stroke-linecap="butt"/>
<line x1="140.64" y1="2045.86" x2="140.64" y2="2114.33" stroke="#efefef" stroke-width="1" stroke-linecap="butt"/>
<line x1="142.87" y1="2044.47" x2="142.87" y2="2123.02" stroke="#efefef" stroke-width="1" stroke-linecap="butt"/>
<line x1="146.86" y1="2044.52" x2="146.86" y2="2089.37" stroke="#efefef" stroke-width="1" stroke-linecap="butt"/>
<line x1="150.84" y1="2045.04" x2="150.84" y2="2082.09" stroke="#efefef" stroke-width="1" stroke-linecap="butt"/>
<line x1="152.99" y1="2047.03" x2="152.99" y2="2057.57" stroke="#efefef" stroke-width="1" stroke-linecap="butt"/>
<line x1="156.91" y1="2046.88" x2="156.91" y2="2087.21" stroke="#efefef" stroke-width="1" stroke-linecap="butt"/>
<line x1="160.55" y1="2045.12" x2="160.55" y2="2122.14" stroke="#efefef" stroke-width="1" stroke-linecap="butt"/>
<line x1="167.15" y1="2044.64" x2="167.15" y2="2086.56" stroke="#efefef" stroke-width="1" stroke-linecap="butt"/>
<line x1="172.98" y1="2049.35" x2="172.98" y2="2138.1" stroke="#efefef" stroke-width="1" stroke-linecap="butt"/>
<line x1="181.65" y1="2046.39" x2="181.65" y2="2079.42" stroke="#efefef" stroke-width="1" stroke-linecap="butt"/>
<line x1="186.9" y1="2047.45" x2="186.9" y2="2069.03" stroke="#efefef" stroke-width="1" stroke-linecap="butt"/>
<line x1="193.03" y1="2046.93" x2="193.03" y2="2058.11" stroke="#efefef" stroke-width="1" stroke-linecap="butt"/>
<line x1="196.49" y1="2050.47" x2="196.49" y2="2154.69" stroke="#efefef" stroke-width="1" stroke-linecap="butt"/>
<line x1="199.96" y1="2050.39" x2="199.96" y2="2072.34" stroke="#efefef" stroke-width="1" stroke-linecap="butt"/>
<line x1="203.7" y1="2049.63" x2="203.7" y2="2108.27" stroke="#efefef" stroke-width="1" stroke-linecap="butt"/>
<line x1="206.46" y1="2046.12" x2="206.46" y2="2081.9" stroke="#efefef" stroke-width="1" stroke-linecap="butt"/>
<line x1="209.92" y1="2049.53" x2="209.92" y2="2079.86" stroke="#efefef" stroke-width="1" stroke-linecap="butt"/>
<line x1="212.96" y1="2047.49" x2="212.96" y2="2060.56" stroke="#efefef" stroke-width="1" stroke-linecap="butt"/>
<line x1="219.79" y1="2046.19" x2="219.79" y2="2066.73" stroke="#efefef" stroke-width="1" stroke-linecap="butt"/>
<line x1="223.3" y1="2050.89" x2="223.3" y2="2092.96" stroke="#efefef" stroke-width="1" stroke-linecap="butt"/>
<line x1="225.7" y1="2050.34" x2="225.7" y2="2133.4" stroke="#efefef" stroke-width="1" stroke-linecap="butt"/>
<line x1="229.54" y1="2047.09" x2="229.54" y2="2069.36" stroke="#efefef" stroke-width="1" stroke-linecap="butt"/>
<line x1="233.44" y1="2047.37" x2="233.44" y2="2091.13" stroke="#efefef" stroke-width="1" stroke-linecap="butt"/>
<line x1="236.2" y1="2049.97" x2="236.2" y2="2122.06" stroke="#efefef" stroke-width="1" stroke-linecap="butt"/>
<line x1="238.35" y1="2051.03" x2="238.35" y2="2116.46" stroke="#efefef" stroke-width="1" stroke-linecap="butt"/>
<line x1="241.65" y1="2049.97" x2="241.65" y2="2089.46" stroke="#efefef" stroke-width="1" stroke-linecap="butt"/>
<line x1="244.12" y1="2047.07" x2="244.12" y2="2144.86" stroke="#efefef" stroke-width="1" stroke-linecap="butt"/>
<line x1="247.4" y1="2047.32" x2="247.4" y2="2122.68" stroke="#efefef" stroke-width="1" stroke-linecap="butt"/>
<line x1="249.43" y1="2050.55" x2="249.43" y2="2131.3" stroke="#efefef" stroke-width="1" stroke-linecap="butt"/>
<line x1="253.32" y1="2052.12" x2="253.32" y2="2067.69" stroke="#efefef" stroke-width="1" stroke-linecap="butt"/>
<line x1="258.94" y1="2049.63" x2="258.94" y2="2132.23" stroke="#efefef" stroke-width="1" stroke-linecap="butt"/>
<line x1="262.24" y1="2051.59" x2="262.24" y2="2073.6" stroke="#efefef" stroke-width="1" stroke-linecap="butt"/>
<line x1="284.78" y1="2048.81" x2="284.78" y2="2106.32" stroke="#efefef" stroke-width="1" stroke-linecap="butt"/>
<line x1="288.62" y1="2052.88" x2="288.62" y2="2144.87" stroke="#efefef" stroke-width="1" stroke-linecap="butt"/>
<line x1="292.2" y1="2049.43" x2="292.2" y2="2159.83" stroke="#efefef" stroke-width="1" stroke-linecap="butt"/>
<line x1="301.75" y1="2051.86" x2="301.75" y2="2121.73" stroke="#efefef" stroke-width="1" stroke-linecap="butt"/>
<line x1="305.44" y1="2050.78" x2="305.44" y2="2074.12" stroke="#efefef" stroke-width="1" stroke-linecap="butt"/>
<line x1="308.05" y1="2052.05" x2="308.05" y2="2071.6" stroke="#efefef" stroke-width="1" stroke-linecap="butt"/>
<line x1="316.14" y1="2053.65" x2="316.14" y2="2083.35" stroke="#efefef" stroke-width="1" stroke-linecap="butt"/>
<line x1="320.01" y1="2054.4" x2="320.01" y2="2104.61" stroke="#efefef" stroke-width="1" stroke-linecap="butt"/>
<line x1="322.26" y1="2053.97" x2="322.26" y2="2095.49" stroke="#efefef" stroke-width="1" stroke-linecap="butt"/>
<line x1="325.1" y1="2051.31" x2="325.1" y2="2085.88" stroke="#efefef" stroke-width="1" stroke-linecap="butt"/>
<line x1="330.2" y1="2053.31" x2="330.2" y2="2120.67" stroke="#efefef" stroke-width="1" stroke-linecap="butt"/>
<line x1="348.69" y1="2052.03" x2="348.69" y2="2120.22" stroke="#efefef" stroke-width="1" stroke-linecap="butt"/>
<line x1="351.94" y1="2051.96" x2="351.94" y2="2083.07" stroke="#efefef" stroke-width="1" stroke-linecap="butt"/>
<line x1="355.72" y1="2052.36" x2="355.72" y2="2095.33" stroke="#efefef" stroke-width="1" stroke-linecap="butt"/>
<line x1="364.81" y1="2054.26" x2="364.81" y2="2135.94" stroke="#efefef" stroke-width="1" stroke-linecap="butt"/>
<line x1="373.2" y1="2052.18" x2="373.2" y2="2143.07" stroke="#efefef" stroke-width="1" stroke-linecap="butt"/>
<line x1="376.16" y1="2052.3" x2="376.16" y2="2129.29" stroke="#efefef" stroke-width="1" stroke-linecap="butt"/>
<line x1="378.35" y1="2056.55" x2="378.35" y2="2124.78" stroke="#efefef" stroke-width="1" stroke-linecap="butt"/>
<line x1="381.21" y1="2052.92" x2="381.21" y2="2075.98" stroke="#efefef" stroke-width="1" stroke-linecap="butt"/>
<line x1="383.57" y1="2055.63" x2="383.57" y2="2125.54" stroke="#efefef" stroke-width="1" stroke-linecap="butt"/>
<line x1="387.15" y1="2052.46" x2="387.15" y2="2126.24" stroke="#efefef" stroke-width="1" stroke-linecap="butt"/>
<line x1="390.29" y1="2055.05" x2="390.29" y2="2076.98" stroke="#efefef" stroke-width="1" stroke-linecap="butt"/>
<line x1="397.41" y1="2056.81" x2="397.41" y2="2097.6" stroke="#efefef" stroke-width="1" stroke-linecap="butt"/>
<line x1="402.36" y1="2054.81" x2="402.36" y2="2153.13" stroke="#efefef" stroke-width="1" stroke-linecap="butt"/>
<line x1="404.46" y1="2057.33" x2="404.46" y2="2077.79" stroke="#efefef" stroke-width="1" stroke-linecap="butt"/>
<line x1="407.53" y1="2057.6" x2="407.53" y2="2163.31" stroke="#efefef" stroke-width="1" stroke-linecap="butt"/>
<line x1="413.05" y1="2054.77" x2="413.05" y2="2066.53" stroke="#efefef" stroke-width="1" stroke-linecap="butt"/>
<line x1="415.57" y1="2054.53" x2="415.57" y2="2083.45" stroke="#efefef" stroke-width="1" stroke-linecap="butt"/>
<line x1="421" y1="2056.78" x2="421" y2="2133.29" stroke="#efefef" stroke-width="1" stroke-linecap="butt"/>
<line x1="428.02" y1="2055.33" x2="428.02" y2="2099.55" stroke="#efefef" stroke-width="1" stroke-linecap="butt"/>
<line x1="430.75" y1="2056.53" x2="430.75" y2="2100.71" stroke="#efefef" stroke-width="1" stroke-linecap="butt"/>
<line x1="440.9" y1="2055.61" x2="440.9" y2="2085.97" stroke="#efefef" stroke-width="1" stroke-linecap="butt"/>
<line x1="443.76" y1="2058.61" x2="443.76" y2="2174.85" stroke="#efefef" stroke-width="1" stroke-linecap="butt"/>
<line x1="447.58" y1="2058.71" x2="447.58" y2="2124.03" stroke="#efefef" stroke-width="1" stroke-linecap="butt"/>
<line x1="450.49" y1="2054.3" x2="450.49" y2="2140.88" stroke="#efefef" stroke-width="1" stroke-linecap="butt"/>
<line x1="462.96" y1="2056.05" x2="462.96" y2="2110.1" stroke="#efefef" stroke-width="1" stroke-linecap="butt"/>
<line x1="469.25" y1="2058.3" x2="469.25" y2="2088.07" stroke="#efefef" stroke-width="1" stroke-linecap="butt"/>
<line x1="471.63" y1="2059.88" x2="471.63" y2="2101.93" stroke="#efefef" stroke-width="1" stroke-linecap="butt"/>
<line x1="473.65" y1="2055.23" x2="473.65" y2="2066.56" stroke="#efefef" stroke-width="1" stroke-linecap="butt"/>
<line x1="477.47" y1="2056.48" x2="477.47" y2="2110.68" stroke="#efefef" stroke-width="1" stroke-linecap="butt"/>
<line x1="483.84" y1="2056.26" x2="483.84" y2="2094.58" stroke="#efefef" stroke-width="1" stroke-linecap="butt"/>
<line x1="489.51" y1="2056.74" x2="489.51" y2="2134.19" stroke="#efefef" stroke-width="1" stroke-linecap="butt"/>
<line x1="493.16" y1="2059.44" x2="493.16" y2="2138.89" stroke="#efefef" stroke-width="1" stroke-linecap="butt"/>
<line x1="495.32" y1="2058.72" x2="495.32" y2="2092.71" stroke="#efefef" stroke-width="1" stroke-linecap="butt"/>
<line x1="514.53" y1="2060.34" x2="514.53" y2="2137.09" stroke="#efefef" stroke-width="1" stroke-linecap="butt"/>
<line x1="518.14" y1="2059.15" x2="518.14" y2="2083.14" stroke="#efefef" stroke-width="1" stroke-linecap="butt"/>
<line x1="529" y1="2060.09" x2="529" y2="2075.51" stroke="#efefef" stroke-width="1" stroke-linecap="butt"/>
<line x1="535.09" y1="2061.01" x2="535.09" y2="2178.99" stroke="#efefef" stroke-width="1" stroke-linecap="butt"/>
<line x1="538.77" y1="2061.51" x2="538.77" y2="2118.79" stroke="#efefef" stroke-width="1" stroke-linecap="butt"/>
<line x1="550" y1="2060.24" x2="550" y2="2116.31" stroke="#efefef" stroke-width="1" stroke-linecap="butt"/>
<line x1="555.37" y1="2061.83" x2="555.37" y2="2099.99" stroke="#efefef" stroke-width="1" stroke-linecap="butt"/>
<line x1="572.19" y1="2064.81" x2="572.19" y2="2102.89" stroke="#efefef" stroke-width="1" stroke-linecap="butt"/>
<line x1="574.68" y1="2064.81" x2="574.68" y2="2148.17" stroke="#efefef" stroke-width="1" stroke-linecap="butt"/>
<line x1="579.38" y1="2062.93" x2="579.38" y2="2095.61" stroke="#efefef" stroke-width="1" stroke-linecap="butt"/>
<polyline points="56,2362 70,2362.2 84,2362.8 86.6,2363 87.2,2330 87.8,2290 88.3,2200 88.6,2100 88.8,2034" fill="none" stroke="#c9c9c9" stroke-width="1.6" stroke-linejoin="round" stroke-linecap="round" />
<polyline points="587.2,2221.6 588,2272 590.8,2308 594,2320 598,2329.6 604,2338 610.6,2344 620,2349.5 634,2354.8 645,2356.8 653.8,2358.4" fill="none" stroke="#c9c9c9" stroke-width="1.8" stroke-linejoin="round" stroke-linecap="round" />
<g>
<ellipse cx="958.3" cy="152.3" rx="6.1" ry="6.53" class="d"/>
<ellipse cx="945" cy="233" rx="6.1" ry="6.53" class="d"/>
<ellipse cx="971.7" cy="232.4" rx="6.1" ry="6.53" class="d"/>
<ellipse cx="958.3" cy="255.4" rx="6.1" ry="6.53" class="d"/>
<ellipse cx="958.3" cy="301.7" rx="6.1" ry="6.53" class="d"/>
<ellipse cx="958.3" cy="378.8" rx="6.1" ry="6.53" class="d"/>
<ellipse cx="958.3" cy="423.1" rx="6.1" ry="6.53" class="d"/>
<ellipse cx="1107" cy="408.5" rx="6.1" ry="6.53" class="d"/>
<ellipse cx="1062.4" cy="434.7" rx="6.1" ry="6.53" class="d"/>
<ellipse cx="1075.2" cy="440.7" rx="6.1" ry="6.53" class="d"/>
<ellipse cx="1087.8" cy="441.7" rx="6.1" ry="6.53" class="d"/>
<ellipse cx="1100.2" cy="445.9" rx="6.1" ry="6.53" class="d"/>
<ellipse cx="1112.8" cy="441.9" rx="6.1" ry="6.53" class="d"/>
<ellipse cx="1126.1" cy="440" rx="6.1" ry="6.53" class="d"/>
<ellipse cx="1138.7" cy="439.1" rx="6.1" ry="6.53" class="d"/>
<ellipse cx="1151.5" cy="430.2" rx="6.1" ry="6.53" class="d"/>
<ellipse cx="1062.4" cy="454.5" rx="6.1" ry="6.53" class="d"/>
<ellipse cx="1075.2" cy="455.9" rx="6.1" ry="6.53" class="d"/>
<ellipse cx="1087.8" cy="458.2" rx="6.1" ry="6.53" class="d"/>
<ellipse cx="1100.4" cy="466.1" rx="6.1" ry="6.53" class="d"/>
<ellipse cx="1113.5" cy="460.3" rx="6.1" ry="6.53" class="d"/>
<ellipse cx="1126.1" cy="456.6" rx="6.1" ry="6.53" class="d"/>
<ellipse cx="1138.7" cy="454.5" rx="6.1" ry="6.53" class="d"/>
<ellipse cx="1151.5" cy="454.2" rx="6.1" ry="6.53" class="d"/>
<ellipse cx="1247.7" cy="388.9" rx="6.1" ry="6.53" class="d"/>
<ellipse cx="1274.3" cy="384.1" rx="6.1" ry="6.53" class="d"/>
<ellipse cx="1234.3" cy="417.1" rx="6.1" ry="6.53" class="d"/>
<ellipse cx="1287.7" cy="424.9" rx="6.1" ry="6.53" class="d"/>
<ellipse cx="1260.9" cy="430.1" rx="6.1" ry="6.53" class="d"/>
<ellipse cx="1215.8" cy="448.4" rx="6.1" ry="6.53" class="d"/>
<ellipse cx="1223.2" cy="449.3" rx="6.1" ry="6.53" class="d"/>
<ellipse cx="1229.7" cy="450.2" rx="6.1" ry="6.53" class="d"/>
<ellipse cx="1236.6" cy="452.8" rx="6.1" ry="6.53" class="d"/>
<ellipse cx="1243.5" cy="455.8" rx="6.1" ry="6.53" class="d"/>
<ellipse cx="1250.5" cy="459.3" rx="6.1" ry="6.53" class="d"/>
<ellipse cx="1257" cy="465.8" rx="6.1" ry="6.53" class="d"/>
<ellipse cx="1264.3" cy="461.9" rx="6.1" ry="6.53" class="d"/>
<ellipse cx="1270.8" cy="456.7" rx="6.1" ry="6.53" class="d"/>
<ellipse cx="1277.8" cy="453.2" rx="6.1" ry="6.53" class="d"/>
<ellipse cx="1285.1" cy="451.5" rx="6.1" ry="6.53" class="d"/>
<ellipse cx="1292.1" cy="449.3" rx="6.1" ry="6.53" class="d"/>
<ellipse cx="1299" cy="447.6" rx="6.1" ry="6.53" class="d"/>
<ellipse cx="1305.9" cy="446.7" rx="6.1" ry="6.53" class="d"/>
<ellipse cx="1260.9" cy="446.3" rx="6.1" ry="6.53" class="d"/>
<ellipse cx="1414.8" cy="413.6" rx="6.1" ry="6.53" class="d"/>
<ellipse cx="1459.4" cy="416.2" rx="6.1" ry="6.53" class="d"/>
<ellipse cx="1370.4" cy="423.1" rx="6.1" ry="6.53" class="d"/>
<ellipse cx="1388.1" cy="430.7" rx="6.1" ry="6.53" class="d"/>
<ellipse cx="1405.9" cy="435.4" rx="6.1" ry="6.53" class="d"/>
<ellipse cx="1424.1" cy="432.8" rx="6.1" ry="6.53" class="d"/>
<ellipse cx="1441.6" cy="430.7" rx="6.1" ry="6.53" class="d"/>
<ellipse cx="1370.4" cy="447" rx="6.1" ry="6.53" class="d"/>
<ellipse cx="1392.5" cy="449.3" rx="6.1" ry="6.53" class="d"/>
<ellipse cx="1414.8" cy="458.8" rx="6.1" ry="6.53" class="d"/>
<ellipse cx="1437.1" cy="457.5" rx="6.1" ry="6.53" class="d"/>
<ellipse cx="1459.4" cy="448.3" rx="6.1" ry="6.53" class="d"/>
</g>
<polyline points="956,280.3 1109.8,446.3 1263.7,441.5 1417.9,437.2" fill="none" stroke="#000" stroke-width="5" stroke-linejoin="round" stroke-linecap="round" />
<line x1="956" y1="244.7" x2="956" y2="316" stroke="#000" stroke-width="4.6" stroke-linecap="butt"/>
<line x1="948.1" y1="246.8" x2="963.9" y2="246.8" stroke="#000" stroke-width="4.3" stroke-linecap="butt"/>
<line x1="948.1" y1="313.9" x2="963.9" y2="313.9" stroke="#000" stroke-width="4.3" stroke-linecap="butt"/>
<ellipse cx="956" cy="280.3" rx="7.8" ry="8.6" fill="#000"/>
<ellipse cx="1109.8" cy="446.3" rx="7.8" ry="8.6" fill="#000"/>
<ellipse cx="1263.7" cy="441.5" rx="7.8" ry="8.6" fill="#000"/>
<ellipse cx="1417.9" cy="437.2" rx="7.8" ry="8.6" fill="#000"/>
<line x1="879" y1="56.5" x2="879" y2="505" stroke="#000" stroke-width="5" stroke-linecap="butt"/>
<line x1="867" y1="502.5" x2="1497" y2="502.5" stroke="#000" stroke-width="5" stroke-linecap="butt"/>
<line x1="867" y1="502.5" x2="879" y2="502.5" stroke="#000" stroke-width="5" stroke-linecap="butt"/>
<line x1="867" y1="391.62" x2="879" y2="391.62" stroke="#000" stroke-width="5" stroke-linecap="butt"/>
<line x1="867" y1="280.75" x2="879" y2="280.75" stroke="#000" stroke-width="5" stroke-linecap="butt"/>
<line x1="867" y1="169.88" x2="879" y2="169.88" stroke="#000" stroke-width="5" stroke-linecap="butt"/>
<line x1="867" y1="59" x2="879" y2="59" stroke="#000" stroke-width="5" stroke-linecap="butt"/>
<line x1="872" y1="447.06" x2="879" y2="447.06" stroke="#000" stroke-width="5" stroke-linecap="butt"/>
<line x1="872" y1="336.19" x2="879" y2="336.19" stroke="#000" stroke-width="5" stroke-linecap="butt"/>
<line x1="872" y1="225.31" x2="879" y2="225.31" stroke="#000" stroke-width="5" stroke-linecap="butt"/>
<line x1="872" y1="114.44" x2="879" y2="114.44" stroke="#000" stroke-width="5" stroke-linecap="butt"/>
<line x1="956.3" y1="502.5" x2="956.3" y2="515" stroke="#000" stroke-width="5" stroke-linecap="butt"/>
<line x1="1110" y1="502.5" x2="1110" y2="515" stroke="#000" stroke-width="5" stroke-linecap="butt"/>
<line x1="1263.7" y1="502.5" x2="1263.7" y2="515" stroke="#000" stroke-width="5" stroke-linecap="butt"/>
<line x1="1417.6" y1="502.5" x2="1417.6" y2="515" stroke="#000" stroke-width="5" stroke-linecap="butt"/>
<text x="831.05" y="69.8" style="font-size:30.93px;font-weight:bold;" fill="#000" textLength="33.17" lengthAdjust="spacingAndGlyphs">80</text>
<text x="831.94" y="180.68" style="font-size:30.93px;font-weight:bold;" fill="#000" textLength="32.25" lengthAdjust="spacingAndGlyphs">60</text>
<text x="832.06" y="291.55" style="font-size:30.93px;font-weight:bold;" fill="#000" textLength="32.12" lengthAdjust="spacingAndGlyphs">40</text>
<text x="832" y="402.43" style="font-size:30.93px;font-weight:bold;" fill="#000" textLength="32.19" lengthAdjust="spacingAndGlyphs">20</text>
<text x="846.75" y="513.3" style="font-size:30.93px;font-weight:bold;" fill="#000" textLength="17.54" lengthAdjust="spacingAndGlyphs">0</text>
<text x="899.07" y="545.3" style="font-size:31.11px;font-weight:bold;" fill="#000" textLength="113.92" lengthAdjust="spacingAndGlyphs">Neonate</text>
<text x="919.68" y="574.29" style="font-size:28.97px;font-weight:bold;" fill="#000" textLength="73.64" lengthAdjust="spacingAndGlyphs">(P6-8)</text>
<text x="1054.3" y="545.3" style="font-size:31.11px;font-weight:bold;" fill="#000" textLength="106.92" lengthAdjust="spacingAndGlyphs">Juvenile</text>
<text x="1056.88" y="574.29" style="font-size:28.97px;font-weight:bold;" fill="#000" textLength="103.24" lengthAdjust="spacingAndGlyphs">(P13-15)</text>
<text x="1178.23" y="545.3" style="font-size:31.11px;font-weight:bold;" fill="#000" textLength="186.05" lengthAdjust="spacingAndGlyphs">Preadolescent</text>
<text x="1216.12" y="574.29" style="font-size:28.97px;font-weight:bold;" fill="#000" textLength="111.35" lengthAdjust="spacingAndGlyphs">(P21-26)</text>
<text x="1383.1" y="545.3" style="font-size:31.11px;font-weight:bold;" fill="#000" textLength="71.44" lengthAdjust="spacingAndGlyphs">Adult</text>
<text x="1377.38" y="574.29" style="font-size:28.97px;font-weight:bold;" fill="#000" textLength="83.44" lengthAdjust="spacingAndGlyphs">(P70+)</text>
<text transform="translate(806.9,455.11) rotate(-90.4)" x="0" y="0" style="font-size:36.19px;font-weight:bold;" fill="#000" textLength="341.94" lengthAdjust="spacingAndGlyphs">Time Constant (ms)</text>
<path d="M1078.81,392.62 L1079.62,387.22 A1.82,1.82 0 0 0 1075.98,387.22 L1076.79,392.62 Z M1078.11,393.59 L1083.5,392.69 A1.82,1.82 0 0 0 1082.37,389.22 L1077.49,391.66 Z M1076.98,393.22 L1079.5,398.06 A1.82,1.82 0 0 0 1082.45,395.92 L1078.62,392.03 Z M1076.98,392.03 L1073.15,395.92 A1.82,1.82 0 0 0 1076.1,398.06 L1078.62,393.22 Z M1078.11,391.66 L1073.23,389.22 A1.82,1.82 0 0 0 1072.1,392.69 L1077.49,393.59 Z " fill="#000"/>
<circle cx="1077.8" cy="392.62" r="1.27" fill="#000"/>
<path d="M1097.51,392.62 L1098.32,387.22 A1.82,1.82 0 0 0 1094.68,387.22 L1095.49,392.62 Z M1096.81,393.59 L1102.2,392.69 A1.82,1.82 0 0 0 1101.07,389.22 L1096.19,391.66 Z M1095.68,393.22 L1098.2,398.06 A1.82,1.82 0 0 0 1101.15,395.92 L1097.32,392.03 Z M1095.68,392.03 L1091.85,395.92 A1.82,1.82 0 0 0 1094.8,398.06 L1097.32,393.22 Z M1096.81,391.66 L1091.93,389.22 A1.82,1.82 0 0 0 1090.8,392.69 L1096.19,393.59 Z " fill="#000"/>
<circle cx="1096.5" cy="392.62" r="1.27" fill="#000"/>
<path d="M1116.11,392.62 L1116.92,387.22 A1.82,1.82 0 0 0 1113.28,387.22 L1114.09,392.62 Z M1115.41,393.59 L1120.8,392.69 A1.82,1.82 0 0 0 1119.67,389.22 L1114.79,391.66 Z M1114.28,393.22 L1116.8,398.06 A1.82,1.82 0 0 0 1119.75,395.92 L1115.92,392.03 Z M1114.28,392.03 L1110.45,395.92 A1.82,1.82 0 0 0 1113.4,398.06 L1115.92,393.22 Z M1115.41,391.66 L1110.53,389.22 A1.82,1.82 0 0 0 1109.4,392.69 L1114.79,393.59 Z " fill="#000"/>
<circle cx="1115.1" cy="392.62" r="1.27" fill="#000"/>
<path d="M1134.81,392.62 L1135.62,387.22 A1.82,1.82 0 0 0 1131.98,387.22 L1132.79,392.62 Z M1134.11,393.59 L1139.5,392.69 A1.82,1.82 0 0 0 1138.37,389.22 L1133.49,391.66 Z M1132.98,393.22 L1135.5,398.06 A1.82,1.82 0 0 0 1138.45,395.92 L1134.62,392.03 Z M1132.98,392.03 L1129.15,395.92 A1.82,1.82 0 0 0 1132.1,398.06 L1134.62,393.22 Z M1134.11,391.66 L1129.23,389.22 A1.82,1.82 0 0 0 1128.1,392.69 L1133.49,393.59 Z " fill="#000"/>
<circle cx="1133.8" cy="392.62" r="1.27" fill="#000"/>
<path d="M1235.38,403.35 L1236.16,398.15 A1.76,1.76 0 0 0 1232.64,398.15 L1233.43,403.35 Z M1234.7,404.28 L1239.89,403.42 A1.76,1.76 0 0 0 1238.8,400.08 L1234.1,402.43 Z M1233.61,403.93 L1236.04,408.59 A1.76,1.76 0 0 0 1238.88,406.53 L1235.19,402.78 Z M1233.61,402.78 L1229.92,406.53 A1.76,1.76 0 0 0 1232.76,408.59 L1235.19,403.93 Z M1234.7,402.43 L1230,400.08 A1.76,1.76 0 0 0 1228.91,403.42 L1234.1,404.28 Z " fill="#000"/>
<circle cx="1234.4" cy="403.35" r="1.22" fill="#000"/>
<path d="M1254.07,403.35 L1254.86,398.15 A1.76,1.76 0 0 0 1251.34,398.15 L1252.12,403.35 Z M1253.4,404.28 L1258.59,403.42 A1.76,1.76 0 0 0 1257.5,400.08 L1252.8,402.43 Z M1252.31,403.93 L1254.74,408.59 A1.76,1.76 0 0 0 1257.58,406.53 L1253.89,402.78 Z M1252.31,402.78 L1248.62,406.53 A1.76,1.76 0 0 0 1251.46,408.59 L1253.89,403.93 Z M1253.4,402.43 L1248.7,400.08 A1.76,1.76 0 0 0 1247.61,403.42 L1252.8,404.28 Z " fill="#000"/>
<circle cx="1253.1" cy="403.35" r="1.22" fill="#000"/>
<path d="M1272.67,403.35 L1273.46,398.15 A1.76,1.76 0 0 0 1269.94,398.15 L1270.73,403.35 Z M1272,404.28 L1277.19,403.42 A1.76,1.76 0 0 0 1276.1,400.08 L1271.4,402.43 Z M1270.91,403.93 L1273.34,408.59 A1.76,1.76 0 0 0 1276.18,406.53 L1272.49,402.78 Z M1270.91,402.78 L1267.22,406.53 A1.76,1.76 0 0 0 1270.06,408.59 L1272.49,403.93 Z M1272,402.43 L1267.3,400.08 A1.76,1.76 0 0 0 1266.21,403.42 L1271.4,404.28 Z " fill="#000"/>
<circle cx="1271.7" cy="403.35" r="1.22" fill="#000"/>
<path d="M1291.27,403.35 L1292.06,398.15 A1.76,1.76 0 0 0 1288.54,398.15 L1289.33,403.35 Z M1290.6,404.28 L1295.79,403.42 A1.76,1.76 0 0 0 1294.7,400.08 L1290,402.43 Z M1289.51,403.93 L1291.94,408.59 A1.76,1.76 0 0 0 1294.78,406.53 L1291.09,402.78 Z M1289.51,402.78 L1285.82,406.53 A1.76,1.76 0 0 0 1288.66,408.59 L1291.09,403.93 Z M1290.6,402.43 L1285.9,400.08 A1.76,1.76 0 0 0 1284.81,403.42 L1290,404.28 Z " fill="#000"/>
<circle cx="1290.3" cy="403.35" r="1.22" fill="#000"/>
<path d="M1388.88,393.85 L1389.66,388.65 A1.76,1.76 0 0 0 1386.14,388.65 L1386.93,393.85 Z M1388.2,394.78 L1393.39,393.92 A1.76,1.76 0 0 0 1392.3,390.58 L1387.6,392.93 Z M1387.11,394.43 L1389.54,399.09 A1.76,1.76 0 0 0 1392.38,397.03 L1388.69,393.28 Z M1387.11,393.28 L1383.42,397.03 A1.76,1.76 0 0 0 1386.26,399.09 L1388.69,394.43 Z M1388.2,392.93 L1383.5,390.58 A1.76,1.76 0 0 0 1382.41,393.92 L1387.6,394.78 Z " fill="#000"/>
<circle cx="1387.9" cy="393.85" r="1.22" fill="#000"/>
<path d="M1407.17,393.85 L1407.96,388.65 A1.76,1.76 0 0 0 1404.44,388.65 L1405.23,393.85 Z M1406.5,394.78 L1411.69,393.92 A1.76,1.76 0 0 0 1410.6,390.58 L1405.9,392.93 Z M1405.41,394.43 L1407.84,399.09 A1.76,1.76 0 0 0 1410.68,397.03 L1406.99,393.28 Z M1405.41,393.28 L1401.72,397.03 A1.76,1.76 0 0 0 1404.56,399.09 L1406.99,394.43 Z M1406.5,392.93 L1401.8,390.58 A1.76,1.76 0 0 0 1400.71,393.92 L1405.9,394.78 Z " fill="#000"/>
<circle cx="1406.2" cy="393.85" r="1.22" fill="#000"/>
<path d="M1425.97,393.85 L1426.76,388.65 A1.76,1.76 0 0 0 1423.24,388.65 L1424.03,393.85 Z M1425.3,394.78 L1430.49,393.92 A1.76,1.76 0 0 0 1429.4,390.58 L1424.7,392.93 Z M1424.21,394.43 L1426.64,399.09 A1.76,1.76 0 0 0 1429.48,397.03 L1425.79,393.28 Z M1424.21,393.28 L1420.52,397.03 A1.76,1.76 0 0 0 1423.36,399.09 L1425.79,394.43 Z M1425.3,392.93 L1420.6,390.58 A1.76,1.76 0 0 0 1419.51,393.92 L1424.7,394.78 Z " fill="#000"/>
<circle cx="1425" cy="393.85" r="1.22" fill="#000"/>
<path d="M1444.57,393.85 L1445.36,388.65 A1.76,1.76 0 0 0 1441.84,388.65 L1442.62,393.85 Z M1443.9,394.78 L1449.09,393.92 A1.76,1.76 0 0 0 1448,390.58 L1443.3,392.93 Z M1442.81,394.43 L1445.24,399.09 A1.76,1.76 0 0 0 1448.08,397.03 L1444.39,393.28 Z M1442.81,393.28 L1439.12,397.03 A1.76,1.76 0 0 0 1441.96,399.09 L1444.39,394.43 Z M1443.9,392.93 L1439.2,390.58 A1.76,1.76 0 0 0 1438.11,393.92 L1443.3,394.78 Z " fill="#000"/>
<circle cx="1443.6" cy="393.85" r="1.22" fill="#000"/>
<g>
<ellipse cx="942.4" cy="678.1" rx="6.1" ry="6.53" class="d"/>
<ellipse cx="968.6" cy="678.1" rx="6.1" ry="6.53" class="d"/>
<ellipse cx="955.2" cy="790.1" rx="6.1" ry="6.53" class="d"/>
<ellipse cx="955.2" cy="838" rx="6.1" ry="6.53" class="d"/>
<ellipse cx="942.4" cy="930.3" rx="6.1" ry="6.53" class="d"/>
<ellipse cx="968.9" cy="928.7" rx="6.1" ry="6.53" class="d"/>
<ellipse cx="955.5" cy="978.1" rx="6.1" ry="6.53" class="d"/>
<ellipse cx="1082.8" cy="948.1" rx="6.1" ry="6.53" class="d"/>
<ellipse cx="1109.4" cy="958.7" rx="6.1" ry="6.53" class="d"/>
<ellipse cx="1136" cy="954.6" rx="6.1" ry="6.53" class="d"/>
<ellipse cx="1064.6" cy="966.7" rx="6.1" ry="6.53" class="d"/>
<ellipse cx="1075.7" cy="968.5" rx="6.1" ry="6.53" class="d"/>
<ellipse cx="1087" cy="971.2" rx="6.1" ry="6.53" class="d"/>
<ellipse cx="1097.9" cy="977.4" rx="6.1" ry="6.53" class="d"/>
<ellipse cx="1120.9" cy="978.7" rx="6.1" ry="6.53" class="d"/>
<ellipse cx="1131.5" cy="972.4" rx="6.1" ry="6.53" class="d"/>
<ellipse cx="1142.7" cy="970.4" rx="6.1" ry="6.53" class="d"/>
<ellipse cx="1153.8" cy="968.5" rx="6.1" ry="6.53" class="d"/>
<ellipse cx="1153.8" cy="985.8" rx="6.1" ry="6.53" class="d"/>
<ellipse cx="1064.6" cy="991.6" rx="6.1" ry="6.53" class="d"/>
<ellipse cx="1094.4" cy="1004.9" rx="6.1" ry="6.53" class="d"/>
<ellipse cx="1124.1" cy="1001.8" rx="6.1" ry="6.53" class="d"/>
<ellipse cx="1236.4" cy="986.9" rx="6.1" ry="6.53" class="d"/>
<ellipse cx="1263.3" cy="997.1" rx="6.1" ry="6.53" class="d"/>
<ellipse cx="1289.9" cy="996.1" rx="6.1" ry="6.53" class="d"/>
<ellipse cx="1218.6" cy="998.8" rx="6.1" ry="6.53" class="d"/>
<ellipse cx="1225.1" cy="1001.9" rx="6.1" ry="6.53" class="d"/>
<ellipse cx="1307.9" cy="1000.6" rx="6.1" ry="6.53" class="d"/>
<ellipse cx="1300.5" cy="1002.7" rx="6.1" ry="6.53" class="d"/>
<ellipse cx="1230.3" cy="1009.7" rx="6.1" ry="6.53" class="d"/>
<ellipse cx="1236.8" cy="1011" rx="6.1" ry="6.53" class="d"/>
<ellipse cx="1243.3" cy="1011.4" rx="6.1" ry="6.53" class="d"/>
<ellipse cx="1249.4" cy="1011.8" rx="6.1" ry="6.53" class="d"/>
<ellipse cx="1255.5" cy="1013.1" rx="6.1" ry="6.53" class="d"/>
<ellipse cx="1263.3" cy="1020.9" rx="6.1" ry="6.53" class="d"/>
<ellipse cx="1270.2" cy="1014" rx="6.1" ry="6.53" class="d"/>
<ellipse cx="1276.3" cy="1012.7" rx="6.1" ry="6.53" class="d"/>
<ellipse cx="1282.3" cy="1011.8" rx="6.1" ry="6.53" class="d"/>
<ellipse cx="1288.4" cy="1011.4" rx="6.1" ry="6.53" class="d"/>
<ellipse cx="1295.3" cy="1010.5" rx="6.1" ry="6.53" class="d"/>
<ellipse cx="1417.1" cy="956.5" rx="6.1" ry="6.53" class="d"/>
<ellipse cx="1430.4" cy="978.7" rx="6.1" ry="6.53" class="d"/>
<ellipse cx="1403.7" cy="985.8" rx="6.1" ry="6.53" class="d"/>
<ellipse cx="1372.6" cy="992.2" rx="6.1" ry="6.53" class="d"/>
<ellipse cx="1383.9" cy="996.1" rx="6.1" ry="6.53" class="d"/>
<ellipse cx="1394.7" cy="998.8" rx="6.1" ry="6.53" class="d"/>
<ellipse cx="1405.7" cy="1001" rx="6.1" ry="6.53" class="d"/>
<ellipse cx="1428.2" cy="1004.3" rx="6.1" ry="6.53" class="d"/>
<ellipse cx="1439.2" cy="999.7" rx="6.1" ry="6.53" class="d"/>
<ellipse cx="1450.3" cy="998.4" rx="6.1" ry="6.53" class="d"/>
<ellipse cx="1461.6" cy="993.6" rx="6.1" ry="6.53" class="d"/>
<ellipse cx="1417.1" cy="1011.4" rx="6.1" ry="6.53" class="d"/>
</g>
<polyline points="956.3,833.4 1109.8,978.4 1263.7,1009.7 1417.8,996.5" fill="none" stroke="#000" stroke-width="5" stroke-linejoin="round" stroke-linecap="round" />
<line x1="956.3" y1="786.5" x2="956.3" y2="879.7" stroke="#000" stroke-width="4.6" stroke-linecap="butt"/>
<line x1="948.4" y1="788.6" x2="964.2" y2="788.6" stroke="#000" stroke-width="4.3" stroke-linecap="butt"/>
<line x1="948.4" y1="877.6" x2="964.2" y2="877.6" stroke="#000" stroke-width="4.3" stroke-linecap="butt"/>
<ellipse cx="956.3" cy="833.4" rx="7.8" ry="8.6" fill="#000"/>
<ellipse cx="1109.8" cy="978.4" rx="7.8" ry="8.6" fill="#000"/>
<ellipse cx="1263.7" cy="1009.7" rx="7.8" ry="8.6" fill="#000"/>
<ellipse cx="1417.8" cy="996.5" rx="7.8" ry="8.6" fill="#000"/>
<line x1="879" y1="638.3" x2="879" y2="1086.5" stroke="#000" stroke-width="5" stroke-linecap="butt"/>
<line x1="867" y1="1084" x2="1497" y2="1084" stroke="#000" stroke-width="5" stroke-linecap="butt"/>
<line x1="867" y1="1084" x2="879" y2="1084" stroke="#000" stroke-width="5" stroke-linecap="butt"/>
<line x1="867" y1="973.2" x2="879" y2="973.2" stroke="#000" stroke-width="5" stroke-linecap="butt"/>
<line x1="867" y1="862.4" x2="879" y2="862.4" stroke="#000" stroke-width="5" stroke-linecap="butt"/>
<line x1="867" y1="751.6" x2="879" y2="751.6" stroke="#000" stroke-width="5" stroke-linecap="butt"/>
<line x1="867" y1="640.8" x2="879" y2="640.8" stroke="#000" stroke-width="5" stroke-linecap="butt"/>
<line x1="872" y1="1028.6" x2="879" y2="1028.6" stroke="#000" stroke-width="5" stroke-linecap="butt"/>
<line x1="872" y1="917.8" x2="879" y2="917.8" stroke="#000" stroke-width="5" stroke-linecap="butt"/>
<line x1="872" y1="807" x2="879" y2="807" stroke="#000" stroke-width="5" stroke-linecap="butt"/>
<line x1="872" y1="696.2" x2="879" y2="696.2" stroke="#000" stroke-width="5" stroke-linecap="butt"/>
<line x1="956.3" y1="1084" x2="956.3" y2="1096.5" stroke="#000" stroke-width="5" stroke-linecap="butt"/>
<line x1="1110" y1="1084" x2="1110" y2="1096.5" stroke="#000" stroke-width="5" stroke-linecap="butt"/>
<line x1="1263.7" y1="1084" x2="1263.7" y2="1096.5" stroke="#000" stroke-width="5" stroke-linecap="butt"/>
<line x1="1417.6" y1="1084" x2="1417.6" y2="1096.5" stroke="#000" stroke-width="5" stroke-linecap="butt"/>
<text x="824.02" y="651.6" style="font-size:30.93px;font-weight:bold;" fill="#000" textLength="39.13" lengthAdjust="spacingAndGlyphs">2.4</text>
<text x="823.89" y="762.4" style="font-size:31.4px;font-weight:bold;" fill="#000" textLength="40" lengthAdjust="spacingAndGlyphs">1.8</text>
<text x="823.87" y="873.2" style="font-size:31.4px;font-weight:bold;" fill="#000" textLength="40.29" lengthAdjust="spacingAndGlyphs">1.2</text>
<text x="823.86" y="984" style="font-size:30.93px;font-weight:bold;" fill="#000" textLength="40.19" lengthAdjust="spacingAndGlyphs">0.6</text>
<text x="823.85" y="1094.8" style="font-size:30.93px;font-weight:bold;" fill="#000" textLength="40.34" lengthAdjust="spacingAndGlyphs">0.0</text>
<text x="899.07" y="1127.9" style="font-size:31.11px;font-weight:bold;" fill="#000" textLength="113.92" lengthAdjust="spacingAndGlyphs">Neonate</text>
<text x="919.68" y="1156.89" style="font-size:28.97px;font-weight:bold;" fill="#000" textLength="73.64" lengthAdjust="spacingAndGlyphs">(P6-8)</text>
<text x="1054.3" y="1127.9" style="font-size:31.11px;font-weight:bold;" fill="#000" textLength="106.92" lengthAdjust="spacingAndGlyphs">Juvenile</text>
<text x="1056.88" y="1156.89" style="font-size:28.97px;font-weight:bold;" fill="#000" textLength="103.24" lengthAdjust="spacingAndGlyphs">(P13-15)</text>
<text x="1178.23" y="1127.9" style="font-size:31.11px;font-weight:bold;" fill="#000" textLength="186.05" lengthAdjust="spacingAndGlyphs">Preadolescent</text>
<text x="1216.12" y="1156.89" style="font-size:28.97px;font-weight:bold;" fill="#000" textLength="111.35" lengthAdjust="spacingAndGlyphs">(P21-26)</text>
<text x="1383.1" y="1127.9" style="font-size:31.11px;font-weight:bold;" fill="#000" textLength="71.44" lengthAdjust="spacingAndGlyphs">Adult</text>
<text x="1377.38" y="1156.89" style="font-size:28.97px;font-weight:bold;" fill="#000" textLength="83.44" lengthAdjust="spacingAndGlyphs">(P70+)</text>
<text transform="translate(807,1035.63) rotate(-90.4)" x="0" y="0" style="font-size:36.34px;font-weight:bold;" fill="#000" textLength="338.8" lengthAdjust="spacingAndGlyphs">AP Half-Width (ms)</text>
<path d="M1083.77,925.16 L1084.56,919.96 A1.76,1.76 0 0 0 1081.04,919.96 L1081.83,925.16 Z M1083.1,926.08 L1088.29,925.22 A1.76,1.76 0 0 0 1087.2,921.88 L1082.5,924.23 Z M1082.01,925.73 L1084.44,930.39 A1.76,1.76 0 0 0 1087.28,928.33 L1083.59,924.58 Z M1082.01,924.58 L1078.32,928.33 A1.76,1.76 0 0 0 1081.16,930.39 L1083.59,925.73 Z M1083.1,924.23 L1078.4,921.88 A1.76,1.76 0 0 0 1077.31,925.22 L1082.5,926.08 Z " fill="#000"/>
<circle cx="1082.8" cy="925.16" r="1.22" fill="#000"/>
<path d="M1102.07,925.16 L1102.86,919.96 A1.76,1.76 0 0 0 1099.34,919.96 L1100.12,925.16 Z M1101.4,926.08 L1106.59,925.22 A1.76,1.76 0 0 0 1105.5,921.88 L1100.8,924.23 Z M1100.31,925.73 L1102.74,930.39 A1.76,1.76 0 0 0 1105.58,928.33 L1101.89,924.58 Z M1100.31,924.58 L1096.62,928.33 A1.76,1.76 0 0 0 1099.46,930.39 L1101.89,925.73 Z M1101.4,924.23 L1096.7,921.88 A1.76,1.76 0 0 0 1095.61,925.22 L1100.8,926.08 Z " fill="#000"/>
<circle cx="1101.1" cy="925.16" r="1.22" fill="#000"/>
<path d="M1120.77,925.16 L1121.56,919.96 A1.76,1.76 0 0 0 1118.04,919.96 L1118.83,925.16 Z M1120.1,926.08 L1125.29,925.22 A1.76,1.76 0 0 0 1124.2,921.88 L1119.5,924.23 Z M1119.01,925.73 L1121.44,930.39 A1.76,1.76 0 0 0 1124.28,928.33 L1120.59,924.58 Z M1119.01,924.58 L1115.32,928.33 A1.76,1.76 0 0 0 1118.16,930.39 L1120.59,925.73 Z M1120.1,924.23 L1115.4,921.88 A1.76,1.76 0 0 0 1114.31,925.22 L1119.5,926.08 Z " fill="#000"/>
<circle cx="1119.8" cy="925.16" r="1.22" fill="#000"/>
<path d="M1139.38,925.16 L1140.16,919.96 A1.76,1.76 0 0 0 1136.64,919.96 L1137.43,925.16 Z M1138.7,926.08 L1143.89,925.22 A1.76,1.76 0 0 0 1142.8,921.88 L1138.1,924.23 Z M1137.61,925.73 L1140.04,930.39 A1.76,1.76 0 0 0 1142.88,928.33 L1139.19,924.58 Z M1137.61,924.58 L1133.92,928.33 A1.76,1.76 0 0 0 1136.76,930.39 L1139.19,925.73 Z M1138.7,924.23 L1134,921.88 A1.76,1.76 0 0 0 1132.91,925.22 L1138.1,926.08 Z " fill="#000"/>
<circle cx="1138.4" cy="925.16" r="1.22" fill="#000"/>
<path d="M1236.77,968.96 L1237.56,963.75 A1.76,1.76 0 0 0 1234.04,963.75 L1234.83,968.96 Z M1236.1,969.88 L1241.29,969.02 A1.76,1.76 0 0 0 1240.2,965.68 L1235.5,968.03 Z M1235.01,969.53 L1237.44,974.19 A1.76,1.76 0 0 0 1240.28,972.13 L1236.59,968.38 Z M1235.01,968.38 L1231.32,972.13 A1.76,1.76 0 0 0 1234.16,974.19 L1236.59,969.53 Z M1236.1,968.03 L1231.4,965.68 A1.76,1.76 0 0 0 1230.31,969.02 L1235.5,969.88 Z " fill="#000"/>
<circle cx="1235.8" cy="968.96" r="1.22" fill="#000"/>
<path d="M1255.27,968.96 L1256.06,963.75 A1.76,1.76 0 0 0 1252.54,963.75 L1253.33,968.96 Z M1254.6,969.88 L1259.79,969.02 A1.76,1.76 0 0 0 1258.7,965.68 L1254,968.03 Z M1253.51,969.53 L1255.94,974.19 A1.76,1.76 0 0 0 1258.78,972.13 L1255.09,968.38 Z M1253.51,968.38 L1249.82,972.13 A1.76,1.76 0 0 0 1252.66,974.19 L1255.09,969.53 Z M1254.6,968.03 L1249.9,965.68 A1.76,1.76 0 0 0 1248.81,969.02 L1254,969.88 Z " fill="#000"/>
<circle cx="1254.3" cy="968.96" r="1.22" fill="#000"/>
<path d="M1273.77,968.96 L1274.56,963.75 A1.76,1.76 0 0 0 1271.04,963.75 L1271.83,968.96 Z M1273.1,969.88 L1278.29,969.02 A1.76,1.76 0 0 0 1277.2,965.68 L1272.5,968.03 Z M1272.01,969.53 L1274.44,974.19 A1.76,1.76 0 0 0 1277.28,972.13 L1273.59,968.38 Z M1272.01,968.38 L1268.32,972.13 A1.76,1.76 0 0 0 1271.16,974.19 L1273.59,969.53 Z M1273.1,968.03 L1268.4,965.68 A1.76,1.76 0 0 0 1267.31,969.02 L1272.5,969.88 Z " fill="#000"/>
<circle cx="1272.8" cy="968.96" r="1.22" fill="#000"/>
<path d="M1292.38,968.96 L1293.16,963.75 A1.76,1.76 0 0 0 1289.64,963.75 L1290.43,968.96 Z M1291.7,969.88 L1296.89,969.02 A1.76,1.76 0 0 0 1295.8,965.68 L1291.1,968.03 Z M1290.61,969.53 L1293.04,974.19 A1.76,1.76 0 0 0 1295.88,972.13 L1292.19,968.38 Z M1290.61,968.38 L1286.92,972.13 A1.76,1.76 0 0 0 1289.76,974.19 L1292.19,969.53 Z M1291.7,968.03 L1287,965.68 A1.76,1.76 0 0 0 1285.91,969.02 L1291.1,969.88 Z " fill="#000"/>
<circle cx="1291.4" cy="968.96" r="1.22" fill="#000"/>
<path d="M1393.11,933.22 L1393.92,927.82 A1.82,1.82 0 0 0 1390.28,927.82 L1391.09,933.22 Z M1392.41,934.19 L1397.8,933.29 A1.82,1.82 0 0 0 1396.67,929.82 L1391.79,932.26 Z M1391.28,933.82 L1393.8,938.66 A1.82,1.82 0 0 0 1396.75,936.52 L1392.92,932.63 Z M1391.28,932.63 L1387.45,936.52 A1.82,1.82 0 0 0 1390.4,938.66 L1392.92,933.82 Z M1392.41,932.26 L1387.53,929.82 A1.82,1.82 0 0 0 1386.4,933.29 L1391.79,934.19 Z " fill="#000"/>
<circle cx="1392.1" cy="933.22" r="1.27" fill="#000"/>
<path d="M1411.71,933.22 L1412.52,927.82 A1.82,1.82 0 0 0 1408.88,927.82 L1409.69,933.22 Z M1411.01,934.19 L1416.4,933.29 A1.82,1.82 0 0 0 1415.27,929.82 L1410.39,932.26 Z M1409.88,933.82 L1412.4,938.66 A1.82,1.82 0 0 0 1415.35,936.52 L1411.52,932.63 Z M1409.88,932.63 L1406.05,936.52 A1.82,1.82 0 0 0 1409,938.66 L1411.52,933.82 Z M1411.01,932.26 L1406.13,929.82 A1.82,1.82 0 0 0 1405,933.29 L1410.39,934.19 Z " fill="#000"/>
<circle cx="1410.7" cy="933.22" r="1.27" fill="#000"/>
<path d="M1430.31,933.22 L1431.12,927.82 A1.82,1.82 0 0 0 1427.48,927.82 L1428.29,933.22 Z M1429.61,934.19 L1435,933.29 A1.82,1.82 0 0 0 1433.87,929.82 L1428.99,932.26 Z M1428.48,933.82 L1431,938.66 A1.82,1.82 0 0 0 1433.95,936.52 L1430.12,932.63 Z M1428.48,932.63 L1424.65,936.52 A1.82,1.82 0 0 0 1427.6,938.66 L1430.12,933.82 Z M1429.61,932.26 L1424.73,929.82 A1.82,1.82 0 0 0 1423.6,933.29 L1428.99,934.19 Z " fill="#000"/>
<circle cx="1429.3" cy="933.22" r="1.27" fill="#000"/>
<path d="M1448.91,933.22 L1449.72,927.82 A1.82,1.82 0 0 0 1446.08,927.82 L1446.89,933.22 Z M1448.21,934.19 L1453.6,933.29 A1.82,1.82 0 0 0 1452.47,929.82 L1447.59,932.26 Z M1447.08,933.82 L1449.6,938.66 A1.82,1.82 0 0 0 1452.55,936.52 L1448.72,932.63 Z M1447.08,932.63 L1443.25,936.52 A1.82,1.82 0 0 0 1446.2,938.66 L1448.72,933.82 Z M1448.21,932.26 L1443.33,929.82 A1.82,1.82 0 0 0 1442.2,933.29 L1447.59,934.19 Z " fill="#000"/>
<circle cx="1447.9" cy="933.22" r="1.27" fill="#000"/>
<g>
<ellipse cx="956" cy="1506.5" rx="6.1" ry="6.53" class="d"/>
<ellipse cx="956" cy="1552.9" rx="6.1" ry="6.53" class="d"/>
<ellipse cx="956" cy="1565.4" rx="6.1" ry="6.53" class="d"/>
<ellipse cx="942.4" cy="1609.1" rx="6.1" ry="6.53" class="d"/>
<ellipse cx="968.9" cy="1609.1" rx="6.1" ry="6.53" class="d"/>
<ellipse cx="956" cy="1627.7" rx="6.1" ry="6.53" class="d"/>
<ellipse cx="1110.3" cy="1355.2" rx="6.1" ry="6.53" class="d"/>
<ellipse cx="1110.3" cy="1372.4" rx="6.1" ry="6.53" class="d"/>
<ellipse cx="1110.3" cy="1392.1" rx="6.1" ry="6.53" class="d"/>
<ellipse cx="1123.6" cy="1438.5" rx="6.1" ry="6.53" class="d"/>
<ellipse cx="1097" cy="1447.9" rx="6.1" ry="6.53" class="d"/>
<ellipse cx="1065.5" cy="1457.6" rx="6.1" ry="6.53" class="d"/>
<ellipse cx="1087.9" cy="1462.5" rx="6.1" ry="6.53" class="d"/>
<ellipse cx="1132.7" cy="1470" rx="6.1" ry="6.53" class="d"/>
<ellipse cx="1155.2" cy="1462.5" rx="6.1" ry="6.53" class="d"/>
<ellipse cx="1065.5" cy="1496.7" rx="6.1" ry="6.53" class="d"/>
<ellipse cx="1087.9" cy="1499.1" rx="6.1" ry="6.53" class="d"/>
<ellipse cx="1132.7" cy="1501.8" rx="6.1" ry="6.53" class="d"/>
<ellipse cx="1155.2" cy="1499.1" rx="6.1" ry="6.53" class="d"/>
<ellipse cx="1110.3" cy="1511.8" rx="6.1" ry="6.53" class="d"/>
<ellipse cx="1110.3" cy="1535.7" rx="6.1" ry="6.53" class="d"/>
<ellipse cx="1110.3" cy="1550.6" rx="6.1" ry="6.53" class="d"/>
<ellipse cx="1265" cy="1249.9" rx="6.1" ry="6.53" class="d"/>
<ellipse cx="1238.2" cy="1277.3" rx="6.1" ry="6.53" class="d"/>
<ellipse cx="1265" cy="1292" rx="6.1" ry="6.53" class="d"/>
<ellipse cx="1291.7" cy="1289.3" rx="6.1" ry="6.53" class="d"/>
<ellipse cx="1265" cy="1306.3" rx="6.1" ry="6.53" class="d"/>
<ellipse cx="1220.5" cy="1315.9" rx="6.1" ry="6.53" class="d"/>
<ellipse cx="1309.8" cy="1315.9" rx="6.1" ry="6.53" class="d"/>
<ellipse cx="1238.2" cy="1328.3" rx="6.1" ry="6.53" class="d"/>
<ellipse cx="1256.2" cy="1333.2" rx="6.1" ry="6.53" class="d"/>
<ellipse cx="1274" cy="1330.6" rx="6.1" ry="6.53" class="d"/>
<ellipse cx="1291.7" cy="1328.3" rx="6.1" ry="6.53" class="d"/>
<ellipse cx="1251.5" cy="1379.6" rx="6.1" ry="6.53" class="d"/>
<ellipse cx="1278.4" cy="1379.6" rx="6.1" ry="6.53" class="d"/>
<ellipse cx="1238.2" cy="1406.4" rx="6.1" ry="6.53" class="d"/>
<ellipse cx="1265" cy="1409" rx="6.1" ry="6.53" class="d"/>
<ellipse cx="1291.7" cy="1406.4" rx="6.1" ry="6.53" class="d"/>
<ellipse cx="1278.4" cy="1418.8" rx="6.1" ry="6.53" class="d"/>
<ellipse cx="1251.5" cy="1431.1" rx="6.1" ry="6.53" class="d"/>
<ellipse cx="1265" cy="1555.6" rx="6.1" ry="6.53" class="d"/>
<ellipse cx="1419.7" cy="1257.5" rx="6.1" ry="6.53" class="d"/>
<ellipse cx="1433" cy="1318.7" rx="6.1" ry="6.53" class="d"/>
<ellipse cx="1406.1" cy="1330.6" rx="6.1" ry="6.53" class="d"/>
<ellipse cx="1406.1" cy="1362.7" rx="6.1" ry="6.53" class="d"/>
<ellipse cx="1433" cy="1360.1" rx="6.1" ry="6.53" class="d"/>
<ellipse cx="1419.7" cy="1409.2" rx="6.1" ry="6.53" class="d"/>
<ellipse cx="1392.7" cy="1436.1" rx="6.1" ry="6.53" class="d"/>
<ellipse cx="1419.7" cy="1440.7" rx="6.1" ry="6.53" class="d"/>
<ellipse cx="1446.6" cy="1436.1" rx="6.1" ry="6.53" class="d"/>
<ellipse cx="1419.7" cy="1462.7" rx="6.1" ry="6.53" class="d"/>
</g>
<polyline points="956.5,1584.7 1110.3,1469 1263.9,1356.9 1418.1,1383.3" fill="none" stroke="#000" stroke-width="5" stroke-linejoin="round" stroke-linecap="round" />
<line x1="956.5" y1="1568.3" x2="956.5" y2="1601" stroke="#000" stroke-width="4.6" stroke-linecap="butt"/>
<line x1="948.6" y1="1570.4" x2="964.4" y2="1570.4" stroke="#000" stroke-width="4.3" stroke-linecap="butt"/>
<line x1="948.6" y1="1598.9" x2="964.4" y2="1598.9" stroke="#000" stroke-width="4.3" stroke-linecap="butt"/>
<ellipse cx="956.5" cy="1584.7" rx="7.8" ry="8.6" fill="#000"/>
<line x1="1110.3" y1="1454.2" x2="1110.3" y2="1484.5" stroke="#000" stroke-width="4.6" stroke-linecap="butt"/>
<line x1="1102.4" y1="1456.3" x2="1118.2" y2="1456.3" stroke="#000" stroke-width="4.3" stroke-linecap="butt"/>
<line x1="1102.4" y1="1482.4" x2="1118.2" y2="1482.4" stroke="#000" stroke-width="4.3" stroke-linecap="butt"/>
<ellipse cx="1110.3" cy="1469" rx="7.8" ry="8.6" fill="#000"/>
<line x1="1263.9" y1="1341.4" x2="1263.9" y2="1372.8" stroke="#000" stroke-width="4.6" stroke-linecap="butt"/>
<line x1="1256" y1="1343.5" x2="1271.8" y2="1343.5" stroke="#000" stroke-width="4.3" stroke-linecap="butt"/>
<line x1="1256" y1="1370.7" x2="1271.8" y2="1370.7" stroke="#000" stroke-width="4.3" stroke-linecap="butt"/>
<ellipse cx="1263.9" cy="1356.9" rx="7.8" ry="8.6" fill="#000"/>
<line x1="1418.1" y1="1364.2" x2="1418.1" y2="1402.7" stroke="#000" stroke-width="4.6" stroke-linecap="butt"/>
<line x1="1410.2" y1="1366.3" x2="1426" y2="1366.3" stroke="#000" stroke-width="4.3" stroke-linecap="butt"/>
<line x1="1410.2" y1="1400.6" x2="1426" y2="1400.6" stroke="#000" stroke-width="4.3" stroke-linecap="butt"/>
<ellipse cx="1418.1" cy="1383.3" rx="7.8" ry="8.6" fill="#000"/>
<line x1="879" y1="1239.5" x2="879" y2="1691" stroke="#000" stroke-width="5" stroke-linecap="butt"/>
<line x1="867" y1="1688.5" x2="1497" y2="1688.5" stroke="#000" stroke-width="5" stroke-linecap="butt"/>
<line x1="867" y1="1688.5" x2="879" y2="1688.5" stroke="#000" stroke-width="5" stroke-linecap="butt"/>
<line x1="867" y1="1539.67" x2="879" y2="1539.67" stroke="#000" stroke-width="5" stroke-linecap="butt"/>
<line x1="867" y1="1390.83" x2="879" y2="1390.83" stroke="#000" stroke-width="5" stroke-linecap="butt"/>
<line x1="867" y1="1242" x2="879" y2="1242" stroke="#000" stroke-width="5" stroke-linecap="butt"/>
<line x1="872" y1="1614.08" x2="879" y2="1614.08" stroke="#000" stroke-width="5" stroke-linecap="butt"/>
<line x1="872" y1="1465.25" x2="879" y2="1465.25" stroke="#000" stroke-width="5" stroke-linecap="butt"/>
<line x1="872" y1="1316.42" x2="879" y2="1316.42" stroke="#000" stroke-width="5" stroke-linecap="butt"/>
<line x1="956.3" y1="1688.5" x2="956.3" y2="1701" stroke="#000" stroke-width="5" stroke-linecap="butt"/>
<line x1="1110" y1="1688.5" x2="1110" y2="1701" stroke="#000" stroke-width="5" stroke-linecap="butt"/>
<line x1="1263.7" y1="1688.5" x2="1263.7" y2="1701" stroke="#000" stroke-width="5" stroke-linecap="butt"/>
<line x1="1417.6" y1="1688.5" x2="1417.6" y2="1701" stroke="#000" stroke-width="5" stroke-linecap="butt"/>
<text x="815.83" y="1252.8" style="font-size:30.93px;font-weight:bold;" fill="#000" textLength="48.35" lengthAdjust="spacingAndGlyphs">360</text>
<text x="815.49" y="1401.63" style="font-size:30.93px;font-weight:bold;" fill="#000" textLength="48.71" lengthAdjust="spacingAndGlyphs">240</text>
<text x="817.23" y="1550.47" style="font-size:31.4px;font-weight:bold;" fill="#000" textLength="46.93" lengthAdjust="spacingAndGlyphs">120</text>
<text x="844.59" y="1699.3" style="font-size:30.93px;font-weight:bold;" fill="#000" textLength="19.88" lengthAdjust="spacingAndGlyphs">0</text>
<text x="899.07" y="1732.8" style="font-size:31.11px;font-weight:bold;" fill="#000" textLength="113.92" lengthAdjust="spacingAndGlyphs">Neonate</text>
<text x="919.68" y="1761.79" style="font-size:28.97px;font-weight:bold;" fill="#000" textLength="73.64" lengthAdjust="spacingAndGlyphs">(P6-8)</text>
<text x="1054.3" y="1732.8" style="font-size:31.11px;font-weight:bold;" fill="#000" textLength="106.92" lengthAdjust="spacingAndGlyphs">Juvenile</text>
<text x="1056.88" y="1761.79" style="font-size:28.97px;font-weight:bold;" fill="#000" textLength="103.24" lengthAdjust="spacingAndGlyphs">(P13-15)</text>
<text x="1178.23" y="1732.8" style="font-size:31.11px;font-weight:bold;" fill="#000" textLength="186.05" lengthAdjust="spacingAndGlyphs">Preadolescent</text>
<text x="1216.12" y="1761.79" style="font-size:28.97px;font-weight:bold;" fill="#000" textLength="111.35" lengthAdjust="spacingAndGlyphs">(P21-26)</text>
<text x="1383.1" y="1732.8" style="font-size:31.11px;font-weight:bold;" fill="#000" textLength="71.44" lengthAdjust="spacingAndGlyphs">Adult</text>
<text x="1377.38" y="1761.79" style="font-size:28.97px;font-weight:bold;" fill="#000" textLength="83.44" lengthAdjust="spacingAndGlyphs">(P70+)</text>
<text transform="translate(782.8,1674.75) rotate(-90.4)" x="0" y="0" style="font-size:36.77px;font-weight:bold;" fill="#000" textLength="412.37" lengthAdjust="spacingAndGlyphs">Max AP Firing Rate (Hz)</text>
<path d="M1090.05,1334.39 L1090.81,1329.31 A1.71,1.71 0 0 0 1087.39,1329.31 L1088.15,1334.39 Z M1089.39,1335.3 L1094.46,1334.46 A1.71,1.71 0 0 0 1093.4,1331.19 L1088.81,1333.49 Z M1088.33,1334.95 L1090.7,1339.51 A1.71,1.71 0 0 0 1093.47,1337.5 L1089.87,1333.83 Z M1088.33,1333.83 L1084.73,1337.5 A1.71,1.71 0 0 0 1087.5,1339.51 L1089.87,1334.95 Z M1089.39,1333.49 L1084.8,1331.19 A1.71,1.71 0 0 0 1083.74,1334.46 L1088.81,1335.3 Z " fill="#000"/>
<circle cx="1089.1" cy="1334.39" r="1.19" fill="#000"/>
<path d="M1108.85,1334.39 L1109.61,1329.31 A1.71,1.71 0 0 0 1106.19,1329.31 L1106.95,1334.39 Z M1108.19,1335.3 L1113.26,1334.46 A1.71,1.71 0 0 0 1112.2,1331.19 L1107.61,1333.49 Z M1107.13,1334.95 L1109.5,1339.51 A1.71,1.71 0 0 0 1112.27,1337.5 L1108.67,1333.83 Z M1107.13,1333.83 L1103.53,1337.5 A1.71,1.71 0 0 0 1106.3,1339.51 L1108.67,1334.95 Z M1108.19,1333.49 L1103.6,1331.19 A1.71,1.71 0 0 0 1102.54,1334.46 L1107.61,1335.3 Z " fill="#000"/>
<circle cx="1107.9" cy="1334.39" r="1.19" fill="#000"/>
<path d="M1127.25,1334.39 L1128.01,1329.31 A1.71,1.71 0 0 0 1124.59,1329.31 L1125.35,1334.39 Z M1126.59,1335.3 L1131.66,1334.46 A1.71,1.71 0 0 0 1130.6,1331.19 L1126.01,1333.49 Z M1125.53,1334.95 L1127.9,1339.51 A1.71,1.71 0 0 0 1130.67,1337.5 L1127.07,1333.83 Z M1125.53,1333.83 L1121.93,1337.5 A1.71,1.71 0 0 0 1124.7,1339.51 L1127.07,1334.95 Z M1126.59,1333.49 L1122,1331.19 A1.71,1.71 0 0 0 1120.94,1334.46 L1126.01,1335.3 Z " fill="#000"/>
<circle cx="1126.3" cy="1334.39" r="1.19" fill="#000"/>
<path d="M1236.59,1233.26 L1237.38,1227.98 A1.78,1.78 0 0 0 1233.82,1227.98 L1234.61,1233.26 Z M1235.91,1234.2 L1241.17,1233.33 A1.78,1.78 0 0 0 1240.07,1229.94 L1235.29,1232.32 Z M1234.8,1233.84 L1237.26,1238.58 A1.78,1.78 0 0 0 1240.15,1236.49 L1236.4,1232.68 Z M1234.8,1232.68 L1231.05,1236.49 A1.78,1.78 0 0 0 1233.94,1238.58 L1236.4,1233.84 Z M1235.91,1232.32 L1231.13,1229.94 A1.78,1.78 0 0 0 1230.03,1233.33 L1235.29,1234.2 Z " fill="#000"/>
<circle cx="1235.6" cy="1233.26" r="1.24" fill="#000"/>
<path d="M1255.49,1233.26 L1256.28,1227.98 A1.78,1.78 0 0 0 1252.72,1227.98 L1253.51,1233.26 Z M1254.81,1234.2 L1260.07,1233.33 A1.78,1.78 0 0 0 1258.97,1229.94 L1254.19,1232.32 Z M1253.7,1233.84 L1256.16,1238.58 A1.78,1.78 0 0 0 1259.05,1236.49 L1255.3,1232.68 Z M1253.7,1232.68 L1249.95,1236.49 A1.78,1.78 0 0 0 1252.84,1238.58 L1255.3,1233.84 Z M1254.81,1232.32 L1250.03,1229.94 A1.78,1.78 0 0 0 1248.93,1233.33 L1254.19,1234.2 Z " fill="#000"/>
<circle cx="1254.5" cy="1233.26" r="1.24" fill="#000"/>
<path d="M1273.99,1233.26 L1274.78,1227.98 A1.78,1.78 0 0 0 1271.22,1227.98 L1272.01,1233.26 Z M1273.31,1234.2 L1278.57,1233.33 A1.78,1.78 0 0 0 1277.47,1229.94 L1272.69,1232.32 Z M1272.2,1233.84 L1274.66,1238.58 A1.78,1.78 0 0 0 1277.55,1236.49 L1273.8,1232.68 Z M1272.2,1232.68 L1268.45,1236.49 A1.78,1.78 0 0 0 1271.34,1238.58 L1273.8,1233.84 Z M1273.31,1232.32 L1268.53,1229.94 A1.78,1.78 0 0 0 1267.43,1233.33 L1272.69,1234.2 Z " fill="#000"/>
<circle cx="1273" cy="1233.26" r="1.24" fill="#000"/>
<path d="M1292.59,1233.26 L1293.38,1227.98 A1.78,1.78 0 0 0 1289.82,1227.98 L1290.61,1233.26 Z M1291.91,1234.2 L1297.17,1233.33 A1.78,1.78 0 0 0 1296.07,1229.94 L1291.29,1232.32 Z M1290.8,1233.84 L1293.26,1238.58 A1.78,1.78 0 0 0 1296.15,1236.49 L1292.4,1232.68 Z M1290.8,1232.68 L1287.05,1236.49 A1.78,1.78 0 0 0 1289.94,1238.58 L1292.4,1233.84 Z M1291.91,1232.32 L1287.13,1229.94 A1.78,1.78 0 0 0 1286.03,1233.33 L1291.29,1234.2 Z " fill="#000"/>
<circle cx="1291.6" cy="1233.26" r="1.24" fill="#000"/>
<path d="M1389.47,1237.3 L1390.24,1232.14 A1.74,1.74 0 0 0 1386.76,1232.14 L1387.53,1237.3 Z M1388.8,1238.22 L1393.95,1237.36 A1.74,1.74 0 0 0 1392.87,1234.05 L1388.2,1236.38 Z M1387.72,1237.87 L1390.12,1242.5 A1.74,1.74 0 0 0 1392.94,1240.45 L1389.28,1236.73 Z M1387.72,1236.73 L1384.06,1240.45 A1.74,1.74 0 0 0 1386.88,1242.5 L1389.28,1237.87 Z M1388.8,1236.38 L1384.13,1234.05 A1.74,1.74 0 0 0 1383.05,1237.36 L1388.2,1238.22 Z " fill="#000"/>
<circle cx="1388.5" cy="1237.3" r="1.21" fill="#000"/>
<path d="M1407.97,1237.3 L1408.74,1232.14 A1.74,1.74 0 0 0 1405.26,1232.14 L1406.03,1237.3 Z M1407.3,1238.22 L1412.45,1237.36 A1.74,1.74 0 0 0 1411.37,1234.05 L1406.7,1236.38 Z M1406.22,1237.87 L1408.62,1242.5 A1.74,1.74 0 0 0 1411.44,1240.45 L1407.78,1236.73 Z M1406.22,1236.73 L1402.56,1240.45 A1.74,1.74 0 0 0 1405.38,1242.5 L1407.78,1237.87 Z M1407.3,1236.38 L1402.63,1234.05 A1.74,1.74 0 0 0 1401.55,1237.36 L1406.7,1238.22 Z " fill="#000"/>
<circle cx="1407" cy="1237.3" r="1.21" fill="#000"/>
<path d="M1426.77,1237.3 L1427.54,1232.14 A1.74,1.74 0 0 0 1424.06,1232.14 L1424.83,1237.3 Z M1426.1,1238.22 L1431.25,1237.36 A1.74,1.74 0 0 0 1430.17,1234.05 L1425.5,1236.38 Z M1425.02,1237.87 L1427.42,1242.5 A1.74,1.74 0 0 0 1430.24,1240.45 L1426.58,1236.73 Z M1425.02,1236.73 L1421.36,1240.45 A1.74,1.74 0 0 0 1424.18,1242.5 L1426.58,1237.87 Z M1426.1,1236.38 L1421.43,1234.05 A1.74,1.74 0 0 0 1420.35,1237.36 L1425.5,1238.22 Z " fill="#000"/>
<circle cx="1425.8" cy="1237.3" r="1.21" fill="#000"/>
<path d="M1445.27,1237.3 L1446.04,1232.14 A1.74,1.74 0 0 0 1442.56,1232.14 L1443.33,1237.3 Z M1444.6,1238.22 L1449.75,1237.36 A1.74,1.74 0 0 0 1448.67,1234.05 L1444,1236.38 Z M1443.52,1237.87 L1445.92,1242.5 A1.74,1.74 0 0 0 1448.74,1240.45 L1445.08,1236.73 Z M1443.52,1236.73 L1439.86,1240.45 A1.74,1.74 0 0 0 1442.68,1242.5 L1445.08,1237.87 Z M1444.6,1236.38 L1439.93,1234.05 A1.74,1.74 0 0 0 1438.85,1237.36 L1444,1238.22 Z " fill="#000"/>
<circle cx="1444.3" cy="1237.3" r="1.21" fill="#000"/>
<path d="M1107.6,1587.6 L1111.0,1565.8 M1115.0,1587.6 L1118.4,1565.8" stroke="#000" stroke-width="3.3" fill="none"/>
<path d="M1104.0,1572.6 L1120.2,1572.6 M1103.2,1580.2 L1119.4,1580.2" stroke="#000" stroke-width="3.0" fill="none"/>
<g>
<ellipse cx="956.5" cy="2197.4" rx="6.1" ry="6.53" class="d"/>
<ellipse cx="956.5" cy="2212.1" rx="6.1" ry="6.53" class="d"/>
<ellipse cx="956.5" cy="2227.3" rx="6.1" ry="6.53" class="d"/>
<ellipse cx="929.3" cy="2274.5" rx="6.1" ry="6.53" class="d"/>
<ellipse cx="956.5" cy="2286.3" rx="6.1" ry="6.53" class="d"/>
<ellipse cx="982.5" cy="2283.5" rx="6.1" ry="6.53" class="d"/>
<ellipse cx="1109.4" cy="2022.7" rx="6.1" ry="6.53" class="d"/>
<ellipse cx="1096.2" cy="2087.6" rx="6.1" ry="6.53" class="d"/>
<ellipse cx="1122.8" cy="2087.6" rx="6.1" ry="6.53" class="d"/>
<ellipse cx="1109.4" cy="2102.6" rx="6.1" ry="6.53" class="d"/>
<ellipse cx="1096.2" cy="2129.2" rx="6.1" ry="6.53" class="d"/>
<ellipse cx="1122.8" cy="2126.3" rx="6.1" ry="6.53" class="d"/>
<ellipse cx="1122.8" cy="2143.8" rx="6.1" ry="6.53" class="d"/>
<ellipse cx="1096.2" cy="2149.7" rx="6.1" ry="6.53" class="d"/>
<ellipse cx="1082.7" cy="2161.4" rx="6.1" ry="6.53" class="d"/>
<ellipse cx="1109.4" cy="2173.9" rx="6.1" ry="6.53" class="d"/>
<ellipse cx="1136" cy="2171" rx="6.1" ry="6.53" class="d"/>
<ellipse cx="1082.7" cy="2185.6" rx="6.1" ry="6.53" class="d"/>
<ellipse cx="1109.4" cy="2194.7" rx="6.1" ry="6.53" class="d"/>
<ellipse cx="1136" cy="2194.7" rx="6.1" ry="6.53" class="d"/>
<ellipse cx="1082.7" cy="2209.4" rx="6.1" ry="6.53" class="d"/>
<ellipse cx="1109.4" cy="2218.4" rx="6.1" ry="6.53" class="d"/>
<ellipse cx="1136" cy="2212.5" rx="6.1" ry="6.53" class="d"/>
<ellipse cx="1262.5" cy="1902" rx="6.1" ry="6.53" class="d"/>
<ellipse cx="1262.9" cy="2028.3" rx="6.1" ry="6.53" class="d"/>
<ellipse cx="1262.9" cy="2050.6" rx="6.1" ry="6.53" class="d"/>
<ellipse cx="1262.9" cy="2065.5" rx="6.1" ry="6.53" class="d"/>
<ellipse cx="1218.5" cy="2080.2" rx="6.1" ry="6.53" class="d"/>
<ellipse cx="1307" cy="2080.2" rx="6.1" ry="6.53" class="d"/>
<ellipse cx="1240.5" cy="2087.8" rx="6.1" ry="6.53" class="d"/>
<ellipse cx="1262.9" cy="2094.5" rx="6.1" ry="6.53" class="d"/>
<ellipse cx="1284.9" cy="2095.1" rx="6.1" ry="6.53" class="d"/>
<ellipse cx="1236.1" cy="2124.5" rx="6.1" ry="6.53" class="d"/>
<ellipse cx="1262.9" cy="2124.5" rx="6.1" ry="6.53" class="d"/>
<ellipse cx="1289.3" cy="2124.5" rx="6.1" ry="6.53" class="d"/>
<ellipse cx="1307" cy="2146.9" rx="6.1" ry="6.53" class="d"/>
<ellipse cx="1218.5" cy="2154.4" rx="6.1" ry="6.53" class="d"/>
<ellipse cx="1247.9" cy="2154.4" rx="6.1" ry="6.53" class="d"/>
<ellipse cx="1277.6" cy="2154.4" rx="6.1" ry="6.53" class="d"/>
<ellipse cx="1236.1" cy="2162" rx="6.1" ry="6.53" class="d"/>
<ellipse cx="1289.3" cy="2169.3" rx="6.1" ry="6.53" class="d"/>
<ellipse cx="1262.9" cy="2176.7" rx="6.1" ry="6.53" class="d"/>
<ellipse cx="1262.9" cy="2206.5" rx="6.1" ry="6.53" class="d"/>
<ellipse cx="1416" cy="1968.8" rx="6.1" ry="6.53" class="d"/>
<ellipse cx="1402.9" cy="2065.7" rx="6.1" ry="6.53" class="d"/>
<ellipse cx="1429.2" cy="2065.7" rx="6.1" ry="6.53" class="d"/>
<ellipse cx="1416" cy="2102.3" rx="6.1" ry="6.53" class="d"/>
<ellipse cx="1416" cy="2154.1" rx="6.1" ry="6.53" class="d"/>
<ellipse cx="1416" cy="2169.3" rx="6.1" ry="6.53" class="d"/>
<ellipse cx="1389.4" cy="2184" rx="6.1" ry="6.53" class="d"/>
<ellipse cx="1442.8" cy="2191.6" rx="6.1" ry="6.53" class="d"/>
<ellipse cx="1416" cy="2199.1" rx="6.1" ry="6.53" class="d"/>
<ellipse cx="1429.2" cy="2213.9" rx="6.1" ry="6.53" class="d"/>
<ellipse cx="1402.9" cy="2221.1" rx="6.1" ry="6.53" class="d"/>
</g>
<polyline points="956.9,2245.5 1110.2,2149.7 1264.2,2108.5 1418,2138.6" fill="none" stroke="#000" stroke-width="5" stroke-linejoin="round" stroke-linecap="round" />
<line x1="956.9" y1="2230.7" x2="956.9" y2="2260.7" stroke="#000" stroke-width="4.6" stroke-linecap="butt"/>
<line x1="949" y1="2232.8" x2="964.8" y2="2232.8" stroke="#000" stroke-width="4.3" stroke-linecap="butt"/>
<line x1="949" y1="2258.6" x2="964.8" y2="2258.6" stroke="#000" stroke-width="4.3" stroke-linecap="butt"/>
<ellipse cx="956.9" cy="2245.5" rx="7.8" ry="8.6" fill="#000"/>
<line x1="1110.2" y1="2137.4" x2="1110.2" y2="2163.1" stroke="#000" stroke-width="4.6" stroke-linecap="butt"/>
<line x1="1102.3" y1="2139.5" x2="1118.1" y2="2139.5" stroke="#000" stroke-width="4.3" stroke-linecap="butt"/>
<line x1="1102.3" y1="2161" x2="1118.1" y2="2161" stroke="#000" stroke-width="4.3" stroke-linecap="butt"/>
<ellipse cx="1110.2" cy="2149.7" rx="7.8" ry="8.6" fill="#000"/>
<line x1="1264.2" y1="2093.4" x2="1264.2" y2="2123.5" stroke="#000" stroke-width="4.6" stroke-linecap="butt"/>
<line x1="1256.3" y1="2095.5" x2="1272.1" y2="2095.5" stroke="#000" stroke-width="4.3" stroke-linecap="butt"/>
<line x1="1256.3" y1="2121.4" x2="1272.1" y2="2121.4" stroke="#000" stroke-width="4.3" stroke-linecap="butt"/>
<ellipse cx="1264.2" cy="2108.5" rx="7.8" ry="8.6" fill="#000"/>
<line x1="1418" y1="2114.8" x2="1418" y2="2162.5" stroke="#000" stroke-width="4.6" stroke-linecap="butt"/>
<line x1="1410.1" y1="2116.9" x2="1425.9" y2="2116.9" stroke="#000" stroke-width="4.3" stroke-linecap="butt"/>
<line x1="1410.1" y1="2160.4" x2="1425.9" y2="2160.4" stroke="#000" stroke-width="4.3" stroke-linecap="butt"/>
<ellipse cx="1418" cy="2138.6" rx="7.8" ry="8.6" fill="#000"/>
<line x1="879" y1="1861.7" x2="879" y2="2311" stroke="#000" stroke-width="5" stroke-linecap="butt"/>
<line x1="867" y1="2308.5" x2="1497" y2="2308.5" stroke="#000" stroke-width="5" stroke-linecap="butt"/>
<line x1="867" y1="2308.5" x2="879" y2="2308.5" stroke="#000" stroke-width="5" stroke-linecap="butt"/>
<line x1="867" y1="2160.4" x2="879" y2="2160.4" stroke="#000" stroke-width="5" stroke-linecap="butt"/>
<line x1="867" y1="2012.3" x2="879" y2="2012.3" stroke="#000" stroke-width="5" stroke-linecap="butt"/>
<line x1="867" y1="1864.2" x2="879" y2="1864.2" stroke="#000" stroke-width="5" stroke-linecap="butt"/>
<line x1="872" y1="2234.45" x2="879" y2="2234.45" stroke="#000" stroke-width="5" stroke-linecap="butt"/>
<line x1="872" y1="2086.35" x2="879" y2="2086.35" stroke="#000" stroke-width="5" stroke-linecap="butt"/>
<line x1="872" y1="1938.25" x2="879" y2="1938.25" stroke="#000" stroke-width="5" stroke-linecap="butt"/>
<line x1="956.3" y1="2308.5" x2="956.3" y2="2321" stroke="#000" stroke-width="5" stroke-linecap="butt"/>
<line x1="1110" y1="2308.5" x2="1110" y2="2321" stroke="#000" stroke-width="5" stroke-linecap="butt"/>
<line x1="1263.7" y1="2308.5" x2="1263.7" y2="2321" stroke="#000" stroke-width="5" stroke-linecap="butt"/>
<line x1="1417.6" y1="2308.5" x2="1417.6" y2="2321" stroke="#000" stroke-width="5" stroke-linecap="butt"/>
<text x="799.84" y="1875" style="font-size:30.93px;font-weight:bold;" fill="#000" textLength="64.35" lengthAdjust="spacingAndGlyphs">3000</text>
<text x="799.49" y="2023.1" style="font-size:30.93px;font-weight:bold;" fill="#000" textLength="64.7" lengthAdjust="spacingAndGlyphs">2000</text>
<text x="799.67" y="2171.2" style="font-size:31.4px;font-weight:bold;" fill="#000" textLength="64.52" lengthAdjust="spacingAndGlyphs">1000</text>
<text x="844.04" y="2319.3" style="font-size:30.93px;font-weight:bold;" fill="#000" textLength="20.46" lengthAdjust="spacingAndGlyphs">0</text>
<text x="899.07" y="2353.5" style="font-size:31.11px;font-weight:bold;" fill="#000" textLength="113.92" lengthAdjust="spacingAndGlyphs">Neonate</text>
<text x="919.68" y="2382.49" style="font-size:28.97px;font-weight:bold;" fill="#000" textLength="73.64" lengthAdjust="spacingAndGlyphs">(P6-8)</text>
<text x="1054.3" y="2353.5" style="font-size:31.11px;font-weight:bold;" fill="#000" textLength="106.92" lengthAdjust="spacingAndGlyphs">Juvenile</text>
<text x="1056.88" y="2382.49" style="font-size:28.97px;font-weight:bold;" fill="#000" textLength="103.24" lengthAdjust="spacingAndGlyphs">(P13-15)</text>
<text x="1178.23" y="2353.5" style="font-size:31.11px;font-weight:bold;" fill="#000" textLength="186.05" lengthAdjust="spacingAndGlyphs">Preadolescent</text>
<text x="1216.12" y="2382.49" style="font-size:28.97px;font-weight:bold;" fill="#000" textLength="111.35" lengthAdjust="spacingAndGlyphs">(P21-26)</text>
<text x="1383.1" y="2353.5" style="font-size:31.11px;font-weight:bold;" fill="#000" textLength="71.44" lengthAdjust="spacingAndGlyphs">Adult</text>
<text x="1377.38" y="2382.49" style="font-size:28.97px;font-weight:bold;" fill="#000" textLength="83.44" lengthAdjust="spacingAndGlyphs">(P70+)</text>
<text transform="translate(782.7,2390.77) rotate(-90.4)" x="0" y="0" style="font-size:36.05px;font-weight:bold;" fill="#000" textLength="602.4" lengthAdjust="spacingAndGlyphs">Depolarization-Induced Block (pA)</text>
<path d="M1098.07,1999.1 L1098.84,1993.94 A1.74,1.74 0 0 0 1095.36,1993.94 L1096.13,1999.1 Z M1097.4,2000.02 L1102.55,1999.16 A1.74,1.74 0 0 0 1101.47,1995.85 L1096.8,1998.18 Z M1096.32,1999.67 L1098.72,2004.3 A1.74,1.74 0 0 0 1101.54,2002.25 L1097.88,1998.53 Z M1096.32,1998.53 L1092.66,2002.25 A1.74,1.74 0 0 0 1095.48,2004.3 L1097.88,1999.67 Z M1097.4,1998.18 L1092.73,1995.85 A1.74,1.74 0 0 0 1091.65,1999.16 L1096.8,2000.02 Z " fill="#000"/>
<circle cx="1097.1" cy="1999.1" r="1.21" fill="#000"/>
<path d="M1116.87,1999.1 L1117.64,1993.94 A1.74,1.74 0 0 0 1114.16,1993.94 L1114.93,1999.1 Z M1116.2,2000.02 L1121.35,1999.16 A1.74,1.74 0 0 0 1120.27,1995.85 L1115.6,1998.18 Z M1115.12,1999.67 L1117.52,2004.3 A1.74,1.74 0 0 0 1120.34,2002.25 L1116.68,1998.53 Z M1115.12,1998.53 L1111.46,2002.25 A1.74,1.74 0 0 0 1114.28,2004.3 L1116.68,1999.67 Z M1116.2,1998.18 L1111.53,1995.85 A1.74,1.74 0 0 0 1110.45,1999.16 L1115.6,2000.02 Z " fill="#000"/>
<circle cx="1115.9" cy="1999.1" r="1.21" fill="#000"/>
<path d="M1243.88,1878.71 L1244.67,1873.47 A1.77,1.77 0 0 0 1241.13,1873.47 L1241.92,1878.71 Z M1243.2,1879.64 L1248.43,1878.77 A1.77,1.77 0 0 0 1247.34,1875.41 L1242.6,1877.77 Z M1242.11,1879.29 L1244.55,1883.99 A1.77,1.77 0 0 0 1247.41,1881.91 L1243.69,1878.13 Z M1242.11,1878.13 L1238.39,1881.91 A1.77,1.77 0 0 0 1241.25,1883.99 L1243.69,1879.29 Z M1243.2,1877.77 L1238.46,1875.41 A1.77,1.77 0 0 0 1237.37,1878.77 L1242.6,1879.64 Z " fill="#000"/>
<circle cx="1242.9" cy="1878.71" r="1.23" fill="#000"/>
<path d="M1262.58,1878.71 L1263.37,1873.47 A1.77,1.77 0 0 0 1259.83,1873.47 L1260.62,1878.71 Z M1261.9,1879.64 L1267.13,1878.77 A1.77,1.77 0 0 0 1266.04,1875.41 L1261.3,1877.77 Z M1260.81,1879.29 L1263.25,1883.99 A1.77,1.77 0 0 0 1266.11,1881.91 L1262.39,1878.13 Z M1260.81,1878.13 L1257.09,1881.91 A1.77,1.77 0 0 0 1259.95,1883.99 L1262.39,1879.29 Z M1261.9,1877.77 L1257.16,1875.41 A1.77,1.77 0 0 0 1256.07,1878.77 L1261.3,1879.64 Z " fill="#000"/>
<circle cx="1261.6" cy="1878.71" r="1.23" fill="#000"/>
<path d="M1281.28,1878.71 L1282.07,1873.47 A1.77,1.77 0 0 0 1278.53,1873.47 L1279.32,1878.71 Z M1280.6,1879.64 L1285.83,1878.77 A1.77,1.77 0 0 0 1284.74,1875.41 L1280,1877.77 Z M1279.51,1879.29 L1281.95,1883.99 A1.77,1.77 0 0 0 1284.81,1881.91 L1281.09,1878.13 Z M1279.51,1878.13 L1275.79,1881.91 A1.77,1.77 0 0 0 1278.65,1883.99 L1281.09,1879.29 Z M1280.6,1877.77 L1275.86,1875.41 A1.77,1.77 0 0 0 1274.77,1878.77 L1280,1879.64 Z " fill="#000"/>
<circle cx="1280.3" cy="1878.71" r="1.23" fill="#000"/>
<path d="M1404.48,1945.91 L1405.27,1940.67 A1.77,1.77 0 0 0 1401.73,1940.67 L1402.52,1945.91 Z M1403.8,1946.84 L1409.03,1945.97 A1.77,1.77 0 0 0 1407.94,1942.61 L1403.2,1944.97 Z M1402.71,1946.49 L1405.15,1951.19 A1.77,1.77 0 0 0 1408.01,1949.11 L1404.29,1945.33 Z M1402.71,1945.33 L1398.99,1949.11 A1.77,1.77 0 0 0 1401.85,1951.19 L1404.29,1946.49 Z M1403.8,1944.97 L1399.06,1942.61 A1.77,1.77 0 0 0 1397.97,1945.97 L1403.2,1946.84 Z " fill="#000"/>
<circle cx="1403.5" cy="1945.91" r="1.23" fill="#000"/>
<path d="M1423.08,1945.91 L1423.87,1940.67 A1.77,1.77 0 0 0 1420.33,1940.67 L1421.12,1945.91 Z M1422.4,1946.84 L1427.63,1945.97 A1.77,1.77 0 0 0 1426.54,1942.61 L1421.8,1944.97 Z M1421.31,1946.49 L1423.75,1951.19 A1.77,1.77 0 0 0 1426.61,1949.11 L1422.89,1945.33 Z M1421.31,1945.33 L1417.59,1949.11 A1.77,1.77 0 0 0 1420.45,1951.19 L1422.89,1946.49 Z M1422.4,1944.97 L1417.66,1942.61 A1.77,1.77 0 0 0 1416.57,1945.97 L1421.8,1946.84 Z " fill="#000"/>
<circle cx="1422.1" cy="1945.91" r="1.23" fill="#000"/>
</svg></body></html>
